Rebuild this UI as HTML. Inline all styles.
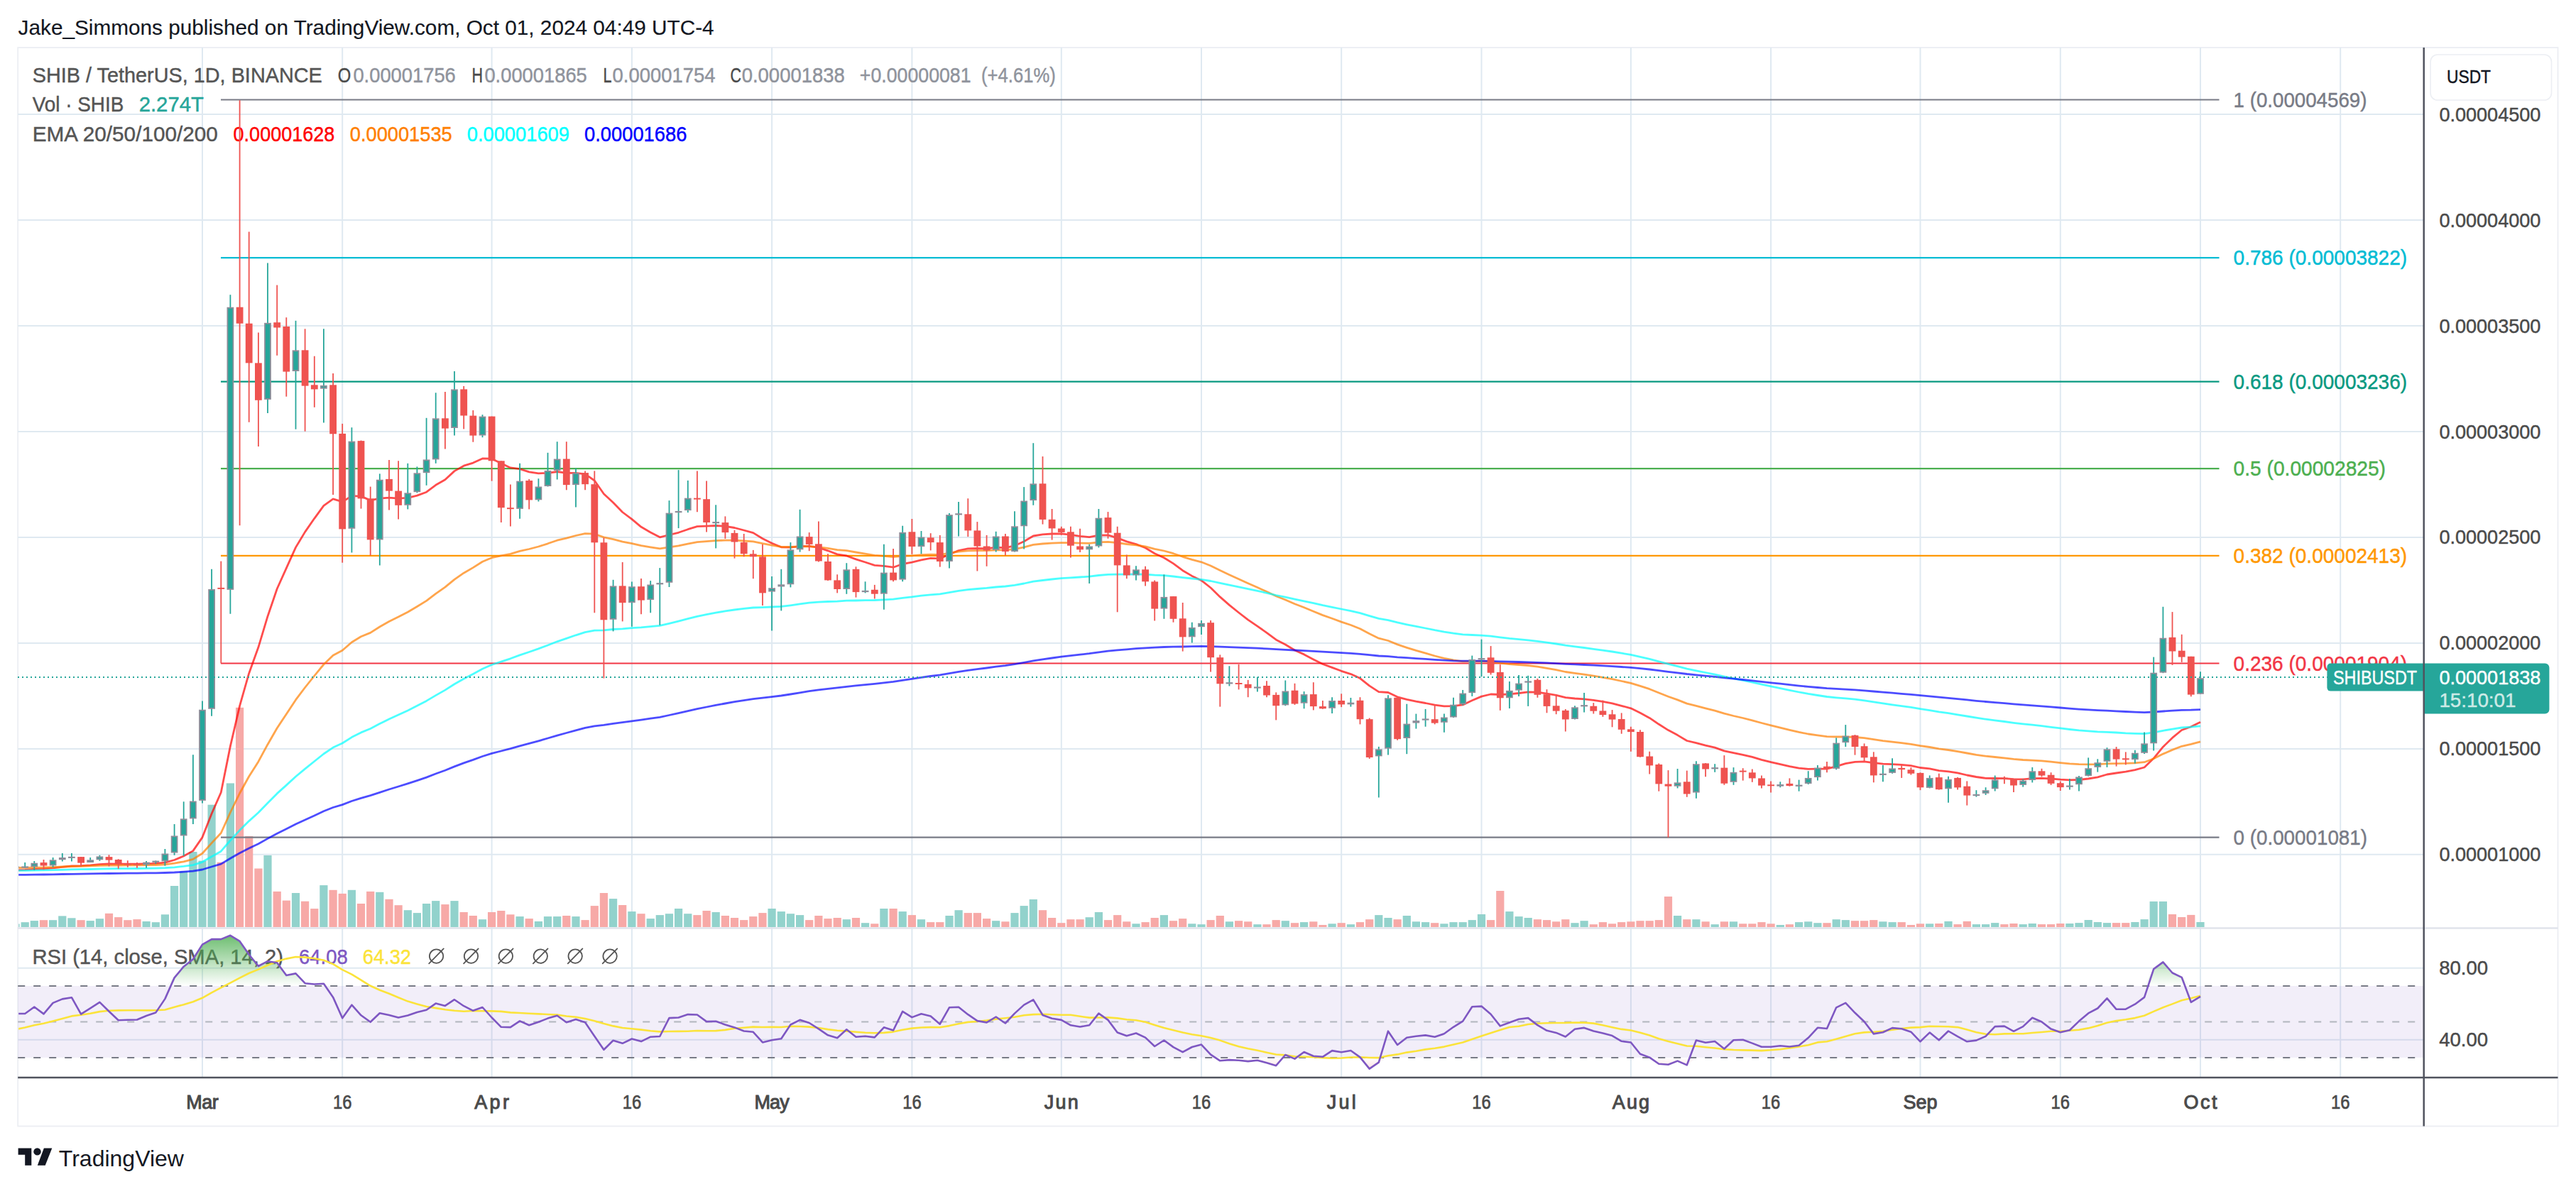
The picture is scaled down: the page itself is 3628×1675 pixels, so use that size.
<!DOCTYPE html>
<html><head><meta charset="utf-8"><style>
html,body{margin:0;padding:0;background:#fff;width:3628px;height:1675px;overflow:hidden}
svg{display:block}
text{font-family:"Liberation Sans", sans-serif;}
</style></head><body>
<svg width="3628" height="1675" viewBox="0 0 3628 1675">
<defs><clipPath id="cm"><rect x="26.2" y="68.0" width="3387.5" height="1239.6"/></clipPath><clipPath id="cr"><rect x="26.2" y="1308.6" width="3387.5" height="209.30000000000018"/></clipPath><linearGradient id="gob" x1="0" y1="0" x2="0" y2="1"><stop offset="0" stop-color="#4caf50" stop-opacity="0.9"/><stop offset="1" stop-color="#4caf50" stop-opacity="0"/></linearGradient><linearGradient id="gos" x1="0" y1="0" x2="0" y2="1"><stop offset="0" stop-color="#f23645" stop-opacity="0"/><stop offset="1" stop-color="#f23645" stop-opacity="0.5"/></linearGradient></defs>
<text x="25.6" y="49.0" font-size="29.5" fill="#131722" font-weight="normal" text-anchor="start" textLength="980.0" lengthAdjust="spacingAndGlyphs" stroke="#131722" stroke-width="0.15" >Jake_Simmons published on TradingView.com, Oct 01, 2024 04:49 UTC-4</text>
<rect x="25.2" y="67.0" width="3577.3" height="1519.5" fill="none" stroke="#eceef3" stroke-width="1.8"/>
<line x1="285.0" y1="67.0" x2="285.0" y2="1517.9" stroke="#dfe9f1" stroke-width="2"/>
<line x1="482.2" y1="67.0" x2="482.2" y2="1517.9" stroke="#dfe9f1" stroke-width="2"/>
<line x1="692.6" y1="67.0" x2="692.6" y2="1517.9" stroke="#dfe9f1" stroke-width="2"/>
<line x1="889.9" y1="67.0" x2="889.9" y2="1517.9" stroke="#dfe9f1" stroke-width="2"/>
<line x1="1087.1" y1="67.0" x2="1087.1" y2="1517.9" stroke="#dfe9f1" stroke-width="2"/>
<line x1="1284.4" y1="67.0" x2="1284.4" y2="1517.9" stroke="#dfe9f1" stroke-width="2"/>
<line x1="1494.8" y1="67.0" x2="1494.8" y2="1517.9" stroke="#dfe9f1" stroke-width="2"/>
<line x1="1692.0" y1="67.0" x2="1692.0" y2="1517.9" stroke="#dfe9f1" stroke-width="2"/>
<line x1="1889.2" y1="67.0" x2="1889.2" y2="1517.9" stroke="#dfe9f1" stroke-width="2"/>
<line x1="2086.5" y1="67.0" x2="2086.5" y2="1517.9" stroke="#dfe9f1" stroke-width="2"/>
<line x1="2296.9" y1="67.0" x2="2296.9" y2="1517.9" stroke="#dfe9f1" stroke-width="2"/>
<line x1="2494.1" y1="67.0" x2="2494.1" y2="1517.9" stroke="#dfe9f1" stroke-width="2"/>
<line x1="2704.5" y1="67.0" x2="2704.5" y2="1517.9" stroke="#dfe9f1" stroke-width="2"/>
<line x1="2901.8" y1="67.0" x2="2901.8" y2="1517.9" stroke="#dfe9f1" stroke-width="2"/>
<line x1="3099.0" y1="67.0" x2="3099.0" y2="1517.9" stroke="#dfe9f1" stroke-width="2"/>
<line x1="3296.2" y1="67.0" x2="3296.2" y2="1517.9" stroke="#dfe9f1" stroke-width="2"/>
<line x1="25.2" y1="161.1" x2="3413.7" y2="161.1" stroke="#dfe9f1" stroke-width="2"/>
<line x1="25.2" y1="310.0" x2="3413.7" y2="310.0" stroke="#dfe9f1" stroke-width="2"/>
<line x1="25.2" y1="459.0" x2="3413.7" y2="459.0" stroke="#dfe9f1" stroke-width="2"/>
<line x1="25.2" y1="608.0" x2="3413.7" y2="608.0" stroke="#dfe9f1" stroke-width="2"/>
<line x1="25.2" y1="756.9" x2="3413.7" y2="756.9" stroke="#dfe9f1" stroke-width="2"/>
<line x1="25.2" y1="905.9" x2="3413.7" y2="905.9" stroke="#dfe9f1" stroke-width="2"/>
<line x1="25.2" y1="1054.9" x2="3413.7" y2="1054.9" stroke="#dfe9f1" stroke-width="2"/>
<line x1="25.2" y1="1203.8" x2="3413.7" y2="1203.8" stroke="#dfe9f1" stroke-width="2"/>
<line x1="25.2" y1="1363.8" x2="3413.7" y2="1363.8" stroke="#dfe9f1" stroke-width="2"/>
<line x1="25.2" y1="1464.7" x2="3413.7" y2="1464.7" stroke="#dfe9f1" stroke-width="2"/>
<line x1="25.2" y1="1307.6" x2="3602.5" y2="1307.6" stroke="#e0e3eb" stroke-width="2.5"/>
<text x="45.8" y="115.9" font-size="30" fill="#555555" font-weight="normal" text-anchor="start" textLength="408.0" lengthAdjust="spacingAndGlyphs" stroke="#555555" stroke-width="0.45" >SHIB / TetherUS, 1D, BINANCE</text>
<text x="475.8" y="115.9" font-size="30" fill="#4a4a4a" font-weight="normal" text-anchor="start" textLength="18.5" lengthAdjust="spacingAndGlyphs" stroke="#4a4a4a" stroke-width="0.45" >O</text>
<text x="497.4" y="115.9" font-size="30" fill="#8f939c" font-weight="normal" text-anchor="start" textLength="144.4" lengthAdjust="spacingAndGlyphs" stroke="#8f939c" stroke-width="0.45" >0.00001756</text>
<text x="664.5" y="115.9" font-size="30" fill="#4a4a4a" font-weight="normal" text-anchor="start" textLength="15.5" lengthAdjust="spacingAndGlyphs" stroke="#4a4a4a" stroke-width="0.45" >H</text>
<text x="682.4" y="115.9" font-size="30" fill="#8f939c" font-weight="normal" text-anchor="start" textLength="144.4" lengthAdjust="spacingAndGlyphs" stroke="#8f939c" stroke-width="0.45" >0.00001865</text>
<text x="849.5" y="115.9" font-size="30" fill="#4a4a4a" font-weight="normal" text-anchor="start" textLength="12.0" lengthAdjust="spacingAndGlyphs" stroke="#4a4a4a" stroke-width="0.45" >L</text>
<text x="862.6" y="115.9" font-size="30" fill="#8f939c" font-weight="normal" text-anchor="start" textLength="144.9" lengthAdjust="spacingAndGlyphs" stroke="#8f939c" stroke-width="0.45" >0.00001754</text>
<text x="1028.4" y="115.9" font-size="30" fill="#4a4a4a" font-weight="normal" text-anchor="start" textLength="15.5" lengthAdjust="spacingAndGlyphs" stroke="#4a4a4a" stroke-width="0.45" >C</text>
<text x="1044.7" y="115.9" font-size="30" fill="#8f939c" font-weight="normal" text-anchor="start" textLength="145.1" lengthAdjust="spacingAndGlyphs" stroke="#8f939c" stroke-width="0.45" >0.00001838</text>
<text x="1210.8" y="115.9" font-size="30" fill="#8f939c" font-weight="normal" text-anchor="start" textLength="156.8" lengthAdjust="spacingAndGlyphs" stroke="#8f939c" stroke-width="0.45" >+0.00000081</text>
<text x="1382.0" y="115.9" font-size="30" fill="#8f939c" font-weight="normal" text-anchor="start" textLength="104.8" lengthAdjust="spacingAndGlyphs" stroke="#8f939c" stroke-width="0.45" >(+4.61%)</text>
<text x="45.8" y="157.0" font-size="30" fill="#555555" font-weight="normal" text-anchor="start" textLength="128.5" lengthAdjust="spacingAndGlyphs" stroke="#555555" stroke-width="0.45" >Vol · SHIB</text>
<text x="195.7" y="157.0" font-size="30" fill="#26a69a" font-weight="normal" text-anchor="start" textLength="91.2" lengthAdjust="spacingAndGlyphs" stroke="#26a69a" stroke-width="0.45" >2.274T</text>
<text x="45.8" y="199.2" font-size="30" fill="#555555" font-weight="normal" text-anchor="start" textLength="261.0" lengthAdjust="spacingAndGlyphs" stroke="#555555" stroke-width="0.45" >EMA 20/50/100/200</text>
<text x="328.6" y="199.2" font-size="30" fill="#ff0000" font-weight="normal" text-anchor="start" textLength="142.7" lengthAdjust="spacingAndGlyphs" stroke="#ff0000" stroke-width="0.45" >0.00001628</text>
<text x="492.8" y="199.2" font-size="30" fill="#ff7f00" font-weight="normal" text-anchor="start" textLength="143.9" lengthAdjust="spacingAndGlyphs" stroke="#ff7f00" stroke-width="0.45" >0.00001535</text>
<text x="657.7" y="199.2" font-size="30" fill="#00ffff" font-weight="normal" text-anchor="start" textLength="144.3" lengthAdjust="spacingAndGlyphs" stroke="#00ffff" stroke-width="0.45" >0.00001609</text>
<text x="823.0" y="199.2" font-size="30" fill="#0000ff" font-weight="normal" text-anchor="start" textLength="144.4" lengthAdjust="spacingAndGlyphs" stroke="#0000ff" stroke-width="0.45" >0.00001686</text>
<text x="45.4" y="1357.5" font-size="30" fill="#555555" font-weight="normal" text-anchor="start" textLength="353.6" lengthAdjust="spacingAndGlyphs" stroke="#555555" stroke-width="0.45" >RSI (14, close, SMA, 14, 2)</text>
<text x="421.0" y="1357.5" font-size="30" fill="#7e57c2" font-weight="normal" text-anchor="start" textLength="68.9" lengthAdjust="spacingAndGlyphs" stroke="#7e57c2" stroke-width="0.45" >64.08</text>
<text x="510.8" y="1357.5" font-size="30" fill="#fbe33a" font-weight="normal" text-anchor="start" textLength="68.2" lengthAdjust="spacingAndGlyphs" stroke="#fbe33a" stroke-width="0.45" >64.32</text>
<circle cx="614.6" cy="1347.1" r="9.7" fill="none" stroke="#555555" stroke-width="1.8"/>
<line x1="604.2" y1="1357.4" x2="624.8" y2="1336.4" stroke="#555555" stroke-width="1.8" stroke-linecap="round"/>
<circle cx="663.5" cy="1347.1" r="9.7" fill="none" stroke="#555555" stroke-width="1.8"/>
<line x1="653.1" y1="1357.4" x2="673.7" y2="1336.4" stroke="#555555" stroke-width="1.8" stroke-linecap="round"/>
<circle cx="712.4" cy="1347.1" r="9.7" fill="none" stroke="#555555" stroke-width="1.8"/>
<line x1="702.0" y1="1357.4" x2="722.6" y2="1336.4" stroke="#555555" stroke-width="1.8" stroke-linecap="round"/>
<circle cx="761.3" cy="1347.1" r="9.7" fill="none" stroke="#555555" stroke-width="1.8"/>
<line x1="750.9" y1="1357.4" x2="771.5" y2="1336.4" stroke="#555555" stroke-width="1.8" stroke-linecap="round"/>
<circle cx="810.2" cy="1347.1" r="9.7" fill="none" stroke="#555555" stroke-width="1.8"/>
<line x1="799.8" y1="1357.4" x2="820.4" y2="1336.4" stroke="#555555" stroke-width="1.8" stroke-linecap="round"/>
<circle cx="859.1" cy="1347.1" r="9.7" fill="none" stroke="#555555" stroke-width="1.8"/>
<line x1="848.7" y1="1357.4" x2="869.3" y2="1336.4" stroke="#555555" stroke-width="1.8" stroke-linecap="round"/>
<g clip-path="url(#cm)">
<rect x="16.4" y="1301.5" width="11.2" height="4.5" fill="#92d2cc"/>
<rect x="29.6" y="1299.2" width="11.2" height="6.8" fill="#92d2cc"/>
<rect x="42.7" y="1297.1" width="11.2" height="8.9" fill="#92d2cc"/>
<rect x="55.9" y="1296.2" width="11.2" height="9.8" fill="#f7a9a7"/>
<rect x="69.0" y="1296.2" width="11.2" height="9.8" fill="#92d2cc"/>
<rect x="82.2" y="1290.4" width="11.2" height="15.6" fill="#92d2cc"/>
<rect x="95.3" y="1293.3" width="11.2" height="12.7" fill="#92d2cc"/>
<rect x="108.5" y="1296.2" width="11.2" height="9.8" fill="#f7a9a7"/>
<rect x="121.6" y="1297.1" width="11.2" height="8.9" fill="#92d2cc"/>
<rect x="134.8" y="1294.2" width="11.2" height="11.8" fill="#92d2cc"/>
<rect x="147.9" y="1286.8" width="11.2" height="19.2" fill="#f7a9a7"/>
<rect x="161.1" y="1292.1" width="11.2" height="13.9" fill="#f7a9a7"/>
<rect x="174.2" y="1296.2" width="11.2" height="9.8" fill="#f7a9a7"/>
<rect x="187.4" y="1295.1" width="11.2" height="10.9" fill="#f7a9a7"/>
<rect x="200.5" y="1298.0" width="11.2" height="8.0" fill="#92d2cc"/>
<rect x="213.7" y="1299.2" width="11.2" height="6.8" fill="#92d2cc"/>
<rect x="226.8" y="1288.3" width="11.2" height="17.7" fill="#92d2cc"/>
<rect x="240.0" y="1248.0" width="11.2" height="58.0" fill="#92d2cc"/>
<rect x="253.1" y="1227.3" width="11.2" height="78.7" fill="#92d2cc"/>
<rect x="266.3" y="1200.0" width="11.2" height="106.0" fill="#92d2cc"/>
<rect x="279.4" y="1212.6" width="11.2" height="93.4" fill="#92d2cc"/>
<rect x="292.5" y="1133.7" width="11.2" height="172.3" fill="#92d2cc"/>
<rect x="305.7" y="1214.7" width="11.2" height="91.3" fill="#f7a9a7"/>
<rect x="318.8" y="1103.4" width="11.2" height="202.6" fill="#92d2cc"/>
<rect x="332.0" y="996.8" width="11.2" height="309.2" fill="#f7a9a7"/>
<rect x="345.1" y="1177.9" width="11.2" height="128.1" fill="#f7a9a7"/>
<rect x="358.3" y="1223.5" width="11.2" height="82.5" fill="#f7a9a7"/>
<rect x="371.4" y="1205.0" width="11.2" height="101.0" fill="#92d2cc"/>
<rect x="384.6" y="1255.9" width="11.2" height="50.1" fill="#f7a9a7"/>
<rect x="397.7" y="1268.6" width="11.2" height="37.4" fill="#f7a9a7"/>
<rect x="410.9" y="1258.0" width="11.2" height="48.0" fill="#92d2cc"/>
<rect x="424.0" y="1269.7" width="11.2" height="36.3" fill="#f7a9a7"/>
<rect x="437.2" y="1280.1" width="11.2" height="25.9" fill="#f7a9a7"/>
<rect x="450.3" y="1247.1" width="11.2" height="58.9" fill="#92d2cc"/>
<rect x="463.5" y="1253.8" width="11.2" height="52.2" fill="#f7a9a7"/>
<rect x="476.6" y="1258.9" width="11.2" height="47.1" fill="#f7a9a7"/>
<rect x="489.8" y="1253.8" width="11.2" height="52.2" fill="#92d2cc"/>
<rect x="502.9" y="1273.0" width="11.2" height="33.0" fill="#f7a9a7"/>
<rect x="516.1" y="1255.9" width="11.2" height="50.1" fill="#f7a9a7"/>
<rect x="529.2" y="1256.8" width="11.2" height="49.2" fill="#92d2cc"/>
<rect x="542.4" y="1266.8" width="11.2" height="39.2" fill="#f7a9a7"/>
<rect x="555.5" y="1275.2" width="11.2" height="30.8" fill="#f7a9a7"/>
<rect x="568.7" y="1282.2" width="11.2" height="23.8" fill="#92d2cc"/>
<rect x="581.8" y="1286.1" width="11.2" height="19.9" fill="#92d2cc"/>
<rect x="595.0" y="1273.0" width="11.2" height="33.0" fill="#92d2cc"/>
<rect x="608.1" y="1269.1" width="11.2" height="36.9" fill="#92d2cc"/>
<rect x="621.3" y="1274.1" width="11.2" height="31.9" fill="#f7a9a7"/>
<rect x="634.4" y="1269.1" width="11.2" height="36.9" fill="#92d2cc"/>
<rect x="647.6" y="1285.0" width="11.2" height="21.0" fill="#f7a9a7"/>
<rect x="660.7" y="1290.0" width="11.2" height="16.0" fill="#f7a9a7"/>
<rect x="673.9" y="1295.2" width="11.2" height="10.8" fill="#92d2cc"/>
<rect x="687.0" y="1285.0" width="11.2" height="21.0" fill="#f7a9a7"/>
<rect x="700.2" y="1283.0" width="11.2" height="23.0" fill="#f7a9a7"/>
<rect x="713.3" y="1288.3" width="11.2" height="17.7" fill="#f7a9a7"/>
<rect x="726.5" y="1291.1" width="11.2" height="14.9" fill="#92d2cc"/>
<rect x="739.6" y="1294.1" width="11.2" height="11.9" fill="#f7a9a7"/>
<rect x="752.8" y="1298.0" width="11.2" height="8.0" fill="#92d2cc"/>
<rect x="765.9" y="1291.1" width="11.2" height="14.9" fill="#92d2cc"/>
<rect x="779.1" y="1291.1" width="11.2" height="14.9" fill="#92d2cc"/>
<rect x="792.2" y="1290.0" width="11.2" height="16.0" fill="#f7a9a7"/>
<rect x="805.4" y="1291.1" width="11.2" height="14.9" fill="#92d2cc"/>
<rect x="818.5" y="1296.1" width="11.2" height="9.9" fill="#f7a9a7"/>
<rect x="831.7" y="1276.1" width="11.2" height="29.9" fill="#f7a9a7"/>
<rect x="844.8" y="1258.0" width="11.2" height="48.0" fill="#f7a9a7"/>
<rect x="858.0" y="1266.1" width="11.2" height="39.9" fill="#92d2cc"/>
<rect x="871.1" y="1275.0" width="11.2" height="31.0" fill="#f7a9a7"/>
<rect x="884.3" y="1284.1" width="11.2" height="21.9" fill="#92d2cc"/>
<rect x="897.4" y="1287.2" width="11.2" height="18.8" fill="#f7a9a7"/>
<rect x="910.6" y="1294.1" width="11.2" height="11.9" fill="#92d2cc"/>
<rect x="923.7" y="1289.1" width="11.2" height="16.9" fill="#92d2cc"/>
<rect x="936.9" y="1287.2" width="11.2" height="18.8" fill="#92d2cc"/>
<rect x="950.0" y="1280.0" width="11.2" height="26.0" fill="#92d2cc"/>
<rect x="963.2" y="1287.2" width="11.2" height="18.8" fill="#92d2cc"/>
<rect x="976.3" y="1289.1" width="11.2" height="16.9" fill="#f7a9a7"/>
<rect x="989.5" y="1283.0" width="11.2" height="23.0" fill="#f7a9a7"/>
<rect x="1002.6" y="1285.0" width="11.2" height="21.0" fill="#92d2cc"/>
<rect x="1015.8" y="1290.0" width="11.2" height="16.0" fill="#f7a9a7"/>
<rect x="1028.9" y="1293.0" width="11.2" height="13.0" fill="#f7a9a7"/>
<rect x="1042.1" y="1296.1" width="11.2" height="9.9" fill="#f7a9a7"/>
<rect x="1055.2" y="1291.1" width="11.2" height="14.9" fill="#f7a9a7"/>
<rect x="1068.4" y="1286.1" width="11.2" height="19.9" fill="#f7a9a7"/>
<rect x="1081.5" y="1280.0" width="11.2" height="26.0" fill="#92d2cc"/>
<rect x="1094.7" y="1284.1" width="11.2" height="21.9" fill="#92d2cc"/>
<rect x="1107.8" y="1287.2" width="11.2" height="18.8" fill="#92d2cc"/>
<rect x="1121.0" y="1289.1" width="11.2" height="16.9" fill="#92d2cc"/>
<rect x="1134.1" y="1296.1" width="11.2" height="9.9" fill="#f7a9a7"/>
<rect x="1147.3" y="1290.0" width="11.2" height="16.0" fill="#f7a9a7"/>
<rect x="1160.4" y="1294.1" width="11.2" height="11.9" fill="#f7a9a7"/>
<rect x="1173.6" y="1293.0" width="11.2" height="13.0" fill="#f7a9a7"/>
<rect x="1186.7" y="1295.2" width="11.2" height="10.8" fill="#92d2cc"/>
<rect x="1199.9" y="1293.0" width="11.2" height="13.0" fill="#f7a9a7"/>
<rect x="1213.0" y="1300.2" width="11.2" height="5.8" fill="#92d2cc"/>
<rect x="1226.2" y="1301.3" width="11.2" height="4.7" fill="#f7a9a7"/>
<rect x="1239.3" y="1280.0" width="11.2" height="26.0" fill="#92d2cc"/>
<rect x="1252.5" y="1280.0" width="11.2" height="26.0" fill="#f7a9a7"/>
<rect x="1265.6" y="1284.1" width="11.2" height="21.9" fill="#92d2cc"/>
<rect x="1278.8" y="1289.1" width="11.2" height="16.9" fill="#f7a9a7"/>
<rect x="1291.9" y="1295.2" width="11.2" height="10.8" fill="#92d2cc"/>
<rect x="1305.1" y="1299.1" width="11.2" height="6.9" fill="#f7a9a7"/>
<rect x="1318.2" y="1299.1" width="11.2" height="6.9" fill="#f7a9a7"/>
<rect x="1331.4" y="1290.0" width="11.2" height="16.0" fill="#92d2cc"/>
<rect x="1344.5" y="1282.2" width="11.2" height="23.8" fill="#92d2cc"/>
<rect x="1357.7" y="1286.1" width="11.2" height="19.9" fill="#f7a9a7"/>
<rect x="1370.8" y="1286.1" width="11.2" height="19.9" fill="#f7a9a7"/>
<rect x="1384.0" y="1294.1" width="11.2" height="11.9" fill="#f7a9a7"/>
<rect x="1397.1" y="1297.2" width="11.2" height="8.8" fill="#92d2cc"/>
<rect x="1410.3" y="1298.3" width="11.2" height="7.7" fill="#f7a9a7"/>
<rect x="1423.4" y="1286.1" width="11.2" height="19.9" fill="#92d2cc"/>
<rect x="1436.6" y="1276.1" width="11.2" height="29.9" fill="#92d2cc"/>
<rect x="1449.7" y="1267.0" width="11.2" height="39.0" fill="#92d2cc"/>
<rect x="1462.9" y="1282.2" width="11.2" height="23.8" fill="#f7a9a7"/>
<rect x="1476.0" y="1293.0" width="11.2" height="13.0" fill="#f7a9a7"/>
<rect x="1489.2" y="1300.2" width="11.2" height="5.8" fill="#f7a9a7"/>
<rect x="1502.3" y="1295.2" width="11.2" height="10.8" fill="#f7a9a7"/>
<rect x="1515.5" y="1295.2" width="11.2" height="10.8" fill="#f7a9a7"/>
<rect x="1528.6" y="1292.2" width="11.2" height="13.8" fill="#92d2cc"/>
<rect x="1541.8" y="1285.0" width="11.2" height="21.0" fill="#92d2cc"/>
<rect x="1554.9" y="1296.1" width="11.2" height="9.9" fill="#f7a9a7"/>
<rect x="1568.1" y="1289.1" width="11.2" height="16.9" fill="#f7a9a7"/>
<rect x="1581.2" y="1298.3" width="11.2" height="7.7" fill="#f7a9a7"/>
<rect x="1594.4" y="1301.3" width="11.2" height="4.7" fill="#92d2cc"/>
<rect x="1607.5" y="1299.1" width="11.2" height="6.9" fill="#f7a9a7"/>
<rect x="1620.6" y="1293.0" width="11.2" height="13.0" fill="#f7a9a7"/>
<rect x="1633.8" y="1289.1" width="11.2" height="16.9" fill="#92d2cc"/>
<rect x="1646.9" y="1297.2" width="11.2" height="8.8" fill="#f7a9a7"/>
<rect x="1660.1" y="1294.1" width="11.2" height="11.9" fill="#f7a9a7"/>
<rect x="1673.2" y="1301.3" width="11.2" height="4.7" fill="#92d2cc"/>
<rect x="1686.4" y="1302.2" width="11.2" height="3.8" fill="#92d2cc"/>
<rect x="1699.5" y="1296.1" width="11.2" height="9.9" fill="#f7a9a7"/>
<rect x="1712.7" y="1290.0" width="11.2" height="16.0" fill="#f7a9a7"/>
<rect x="1725.8" y="1298.3" width="11.2" height="7.7" fill="#92d2cc"/>
<rect x="1739.0" y="1297.2" width="11.2" height="8.8" fill="#f7a9a7"/>
<rect x="1752.1" y="1298.3" width="11.2" height="7.7" fill="#f7a9a7"/>
<rect x="1765.3" y="1302.2" width="11.2" height="3.8" fill="#92d2cc"/>
<rect x="1778.4" y="1302.2" width="11.2" height="3.8" fill="#f7a9a7"/>
<rect x="1791.6" y="1296.1" width="11.2" height="9.9" fill="#f7a9a7"/>
<rect x="1804.7" y="1297.2" width="11.2" height="8.8" fill="#92d2cc"/>
<rect x="1817.9" y="1300.2" width="11.2" height="5.8" fill="#f7a9a7"/>
<rect x="1831.0" y="1299.1" width="11.2" height="6.9" fill="#92d2cc"/>
<rect x="1844.2" y="1298.3" width="11.2" height="7.7" fill="#f7a9a7"/>
<rect x="1857.3" y="1303.0" width="11.2" height="3.0" fill="#f7a9a7"/>
<rect x="1870.5" y="1301.3" width="11.2" height="4.7" fill="#92d2cc"/>
<rect x="1883.6" y="1300.2" width="11.2" height="5.8" fill="#f7a9a7"/>
<rect x="1896.8" y="1302.2" width="11.2" height="3.8" fill="#92d2cc"/>
<rect x="1909.9" y="1299.1" width="11.2" height="6.9" fill="#f7a9a7"/>
<rect x="1923.1" y="1295.2" width="11.2" height="10.8" fill="#f7a9a7"/>
<rect x="1936.2" y="1289.1" width="11.2" height="16.9" fill="#92d2cc"/>
<rect x="1949.4" y="1293.0" width="11.2" height="13.0" fill="#92d2cc"/>
<rect x="1962.5" y="1295.2" width="11.2" height="10.8" fill="#f7a9a7"/>
<rect x="1975.7" y="1290.0" width="11.2" height="16.0" fill="#92d2cc"/>
<rect x="1988.8" y="1298.3" width="11.2" height="7.7" fill="#92d2cc"/>
<rect x="2002.0" y="1299.1" width="11.2" height="6.9" fill="#92d2cc"/>
<rect x="2015.1" y="1300.2" width="11.2" height="5.8" fill="#f7a9a7"/>
<rect x="2028.3" y="1301.3" width="11.2" height="4.7" fill="#92d2cc"/>
<rect x="2041.4" y="1299.1" width="11.2" height="6.9" fill="#92d2cc"/>
<rect x="2054.6" y="1299.1" width="11.2" height="6.9" fill="#92d2cc"/>
<rect x="2067.7" y="1296.1" width="11.2" height="9.9" fill="#92d2cc"/>
<rect x="2080.9" y="1288.0" width="11.2" height="18.0" fill="#92d2cc"/>
<rect x="2094.0" y="1296.1" width="11.2" height="9.9" fill="#f7a9a7"/>
<rect x="2107.2" y="1255.0" width="11.2" height="51.0" fill="#f7a9a7"/>
<rect x="2120.3" y="1284.1" width="11.2" height="21.9" fill="#92d2cc"/>
<rect x="2133.5" y="1291.1" width="11.2" height="14.9" fill="#92d2cc"/>
<rect x="2146.6" y="1293.0" width="11.2" height="13.0" fill="#92d2cc"/>
<rect x="2159.8" y="1295.2" width="11.2" height="10.8" fill="#f7a9a7"/>
<rect x="2172.9" y="1296.1" width="11.2" height="9.9" fill="#f7a9a7"/>
<rect x="2186.1" y="1298.3" width="11.2" height="7.7" fill="#f7a9a7"/>
<rect x="2199.2" y="1295.2" width="11.2" height="10.8" fill="#f7a9a7"/>
<rect x="2212.4" y="1300.2" width="11.2" height="5.8" fill="#92d2cc"/>
<rect x="2225.5" y="1297.2" width="11.2" height="8.8" fill="#92d2cc"/>
<rect x="2238.7" y="1302.2" width="11.2" height="3.8" fill="#f7a9a7"/>
<rect x="2251.8" y="1299.1" width="11.2" height="6.9" fill="#f7a9a7"/>
<rect x="2265.0" y="1301.3" width="11.2" height="4.7" fill="#f7a9a7"/>
<rect x="2278.1" y="1299.1" width="11.2" height="6.9" fill="#f7a9a7"/>
<rect x="2291.3" y="1298.3" width="11.2" height="7.7" fill="#f7a9a7"/>
<rect x="2304.4" y="1297.2" width="11.2" height="8.8" fill="#f7a9a7"/>
<rect x="2317.6" y="1297.2" width="11.2" height="8.8" fill="#f7a9a7"/>
<rect x="2330.7" y="1296.1" width="11.2" height="9.9" fill="#f7a9a7"/>
<rect x="2343.9" y="1263.0" width="11.2" height="43.0" fill="#f7a9a7"/>
<rect x="2357.0" y="1290.0" width="11.2" height="16.0" fill="#92d2cc"/>
<rect x="2370.2" y="1295.2" width="11.2" height="10.8" fill="#f7a9a7"/>
<rect x="2383.3" y="1295.2" width="11.2" height="10.8" fill="#92d2cc"/>
<rect x="2396.5" y="1298.3" width="11.2" height="7.7" fill="#f7a9a7"/>
<rect x="2409.6" y="1302.2" width="11.2" height="3.8" fill="#92d2cc"/>
<rect x="2422.8" y="1298.3" width="11.2" height="7.7" fill="#f7a9a7"/>
<rect x="2435.9" y="1298.3" width="11.2" height="7.7" fill="#92d2cc"/>
<rect x="2449.1" y="1301.3" width="11.2" height="4.7" fill="#f7a9a7"/>
<rect x="2462.2" y="1301.3" width="11.2" height="4.7" fill="#f7a9a7"/>
<rect x="2475.4" y="1299.1" width="11.2" height="6.9" fill="#f7a9a7"/>
<rect x="2488.5" y="1301.3" width="11.2" height="4.7" fill="#f7a9a7"/>
<rect x="2501.7" y="1303.0" width="11.2" height="3.0" fill="#92d2cc"/>
<rect x="2514.8" y="1302.2" width="11.2" height="3.8" fill="#f7a9a7"/>
<rect x="2528.0" y="1299.1" width="11.2" height="6.9" fill="#92d2cc"/>
<rect x="2541.1" y="1298.3" width="11.2" height="7.7" fill="#92d2cc"/>
<rect x="2554.3" y="1300.2" width="11.2" height="5.8" fill="#92d2cc"/>
<rect x="2567.4" y="1300.2" width="11.2" height="5.8" fill="#f7a9a7"/>
<rect x="2580.6" y="1295.2" width="11.2" height="10.8" fill="#92d2cc"/>
<rect x="2593.7" y="1296.1" width="11.2" height="9.9" fill="#92d2cc"/>
<rect x="2606.9" y="1297.2" width="11.2" height="8.8" fill="#f7a9a7"/>
<rect x="2620.0" y="1297.2" width="11.2" height="8.8" fill="#f7a9a7"/>
<rect x="2633.2" y="1296.1" width="11.2" height="9.9" fill="#f7a9a7"/>
<rect x="2646.3" y="1298.3" width="11.2" height="7.7" fill="#92d2cc"/>
<rect x="2659.5" y="1299.1" width="11.2" height="6.9" fill="#92d2cc"/>
<rect x="2672.6" y="1299.1" width="11.2" height="6.9" fill="#f7a9a7"/>
<rect x="2685.8" y="1303.0" width="11.2" height="3.0" fill="#f7a9a7"/>
<rect x="2698.9" y="1301.3" width="11.2" height="4.7" fill="#f7a9a7"/>
<rect x="2712.1" y="1301.3" width="11.2" height="4.7" fill="#92d2cc"/>
<rect x="2725.2" y="1301.0" width="11.2" height="5.0" fill="#f7a9a7"/>
<rect x="2738.4" y="1297.9" width="11.2" height="8.1" fill="#92d2cc"/>
<rect x="2751.5" y="1302.1" width="11.2" height="3.9" fill="#f7a9a7"/>
<rect x="2764.7" y="1297.9" width="11.2" height="8.1" fill="#f7a9a7"/>
<rect x="2777.8" y="1302.1" width="11.2" height="3.9" fill="#92d2cc"/>
<rect x="2791.0" y="1302.1" width="11.2" height="3.9" fill="#92d2cc"/>
<rect x="2804.1" y="1300.1" width="11.2" height="5.9" fill="#92d2cc"/>
<rect x="2817.3" y="1302.1" width="11.2" height="3.9" fill="#f7a9a7"/>
<rect x="2830.4" y="1301.0" width="11.2" height="5.0" fill="#f7a9a7"/>
<rect x="2843.6" y="1302.1" width="11.2" height="3.9" fill="#92d2cc"/>
<rect x="2856.7" y="1301.0" width="11.2" height="5.0" fill="#92d2cc"/>
<rect x="2869.9" y="1302.1" width="11.2" height="3.9" fill="#f7a9a7"/>
<rect x="2883.0" y="1302.1" width="11.2" height="3.9" fill="#f7a9a7"/>
<rect x="2896.2" y="1301.0" width="11.2" height="5.0" fill="#f7a9a7"/>
<rect x="2909.3" y="1301.0" width="11.2" height="5.0" fill="#92d2cc"/>
<rect x="2922.4" y="1300.1" width="11.2" height="5.9" fill="#92d2cc"/>
<rect x="2935.6" y="1296.0" width="11.2" height="10.0" fill="#92d2cc"/>
<rect x="2948.7" y="1299.0" width="11.2" height="7.0" fill="#92d2cc"/>
<rect x="2961.9" y="1300.1" width="11.2" height="5.9" fill="#92d2cc"/>
<rect x="2975.0" y="1300.1" width="11.2" height="5.9" fill="#f7a9a7"/>
<rect x="2988.2" y="1300.1" width="11.2" height="5.9" fill="#f7a9a7"/>
<rect x="3001.3" y="1299.0" width="11.2" height="7.0" fill="#92d2cc"/>
<rect x="3014.5" y="1295.1" width="11.2" height="10.9" fill="#92d2cc"/>
<rect x="3027.6" y="1269.9" width="11.2" height="36.1" fill="#92d2cc"/>
<rect x="3040.8" y="1269.9" width="11.2" height="36.1" fill="#92d2cc"/>
<rect x="3053.9" y="1288.0" width="11.2" height="18.0" fill="#f7a9a7"/>
<rect x="3067.1" y="1292.0" width="11.2" height="14.0" fill="#f7a9a7"/>
<rect x="3080.2" y="1288.9" width="11.2" height="17.1" fill="#f7a9a7"/>
<rect x="3093.4" y="1299.0" width="11.2" height="7.0" fill="#92d2cc"/>
<line x1="311" y1="140.5" x2="3125.5" y2="140.5" stroke="#787b86" stroke-width="2.2"/>
<text x="3145.6" y="150.8" font-size="29.5" fill="#787b86" font-weight="normal" text-anchor="start" textLength="187.8" lengthAdjust="spacingAndGlyphs" stroke="#787b86" stroke-width="0.45" >1 (0.00004569)</text>
<line x1="311" y1="363.1" x2="3125.5" y2="363.1" stroke="#00bcd4" stroke-width="2.2"/>
<text x="3145.6" y="373.4" font-size="29.5" fill="#00bcd4" font-weight="normal" text-anchor="start" textLength="244.5" lengthAdjust="spacingAndGlyphs" stroke="#00bcd4" stroke-width="0.45" >0.786 (0.00003822)</text>
<line x1="311" y1="537.7" x2="3125.5" y2="537.7" stroke="#089981" stroke-width="2.2"/>
<text x="3145.6" y="548.0" font-size="29.5" fill="#089981" font-weight="normal" text-anchor="start" textLength="244.5" lengthAdjust="spacingAndGlyphs" stroke="#089981" stroke-width="0.45" >0.618 (0.00003236)</text>
<line x1="311" y1="660.1" x2="3125.5" y2="660.1" stroke="#4caf50" stroke-width="2.2"/>
<text x="3145.6" y="670.4" font-size="29.5" fill="#4caf50" font-weight="normal" text-anchor="start" textLength="214.4" lengthAdjust="spacingAndGlyphs" stroke="#4caf50" stroke-width="0.45" >0.5 (0.00002825)</text>
<line x1="311" y1="782.9" x2="3125.5" y2="782.9" stroke="#ff9800" stroke-width="2.2"/>
<text x="3145.6" y="793.2" font-size="29.5" fill="#ff9800" font-weight="normal" text-anchor="start" textLength="244.5" lengthAdjust="spacingAndGlyphs" stroke="#ff9800" stroke-width="0.45" >0.382 (0.00002413)</text>
<line x1="311" y1="934.5" x2="3125.5" y2="934.5" stroke="#f23645" stroke-width="2.2"/>
<text x="3145.6" y="944.8" font-size="29.5" fill="#f23645" font-weight="normal" text-anchor="start" textLength="244.5" lengthAdjust="spacingAndGlyphs" stroke="#f23645" stroke-width="0.45" >0.236 (0.00001904)</text>
<line x1="311" y1="1179.7" x2="3125.5" y2="1179.7" stroke="#787b86" stroke-width="2.2"/>
<text x="3145.6" y="1190.0" font-size="29.5" fill="#787b86" font-weight="normal" text-anchor="start" textLength="188.4" lengthAdjust="spacingAndGlyphs" stroke="#787b86" stroke-width="0.45" >0 (0.00001081)</text>
<polyline points="8.9,1226.5 22.0,1225.9 35.2,1225.4 48.3,1224.5 61.5,1224.0 74.6,1222.8 87.8,1221.4 100.9,1220.0 114.1,1219.6 127.2,1218.8 140.4,1217.6 153.5,1217.0 166.7,1217.1 179.8,1217.1 193.0,1217.1 206.1,1216.8 219.3,1216.4 232.4,1215.1 245.6,1211.5 258.7,1206.0 271.9,1198.6 285.0,1179.6 298.1,1146.3 311.3,1116.2 324.4,1051.1 337.6,994.4 350.7,948.4 363.9,911.8 377.0,868.2 390.2,829.5 403.3,800.4 416.5,771.1 429.6,749.4 442.8,730.3 455.9,712.4 469.1,702.8 482.2,706.9 495.4,698.7 508.5,699.1 521.7,704.9 534.8,702.1 548.0,701.1 561.1,702.2 574.3,701.4 587.4,698.1 600.6,693.2 613.7,683.3 626.9,675.7 640.0,663.6 653.2,656.2 666.3,652.1 679.5,645.9 692.6,646.2 705.8,652.8 718.9,658.9 732.1,660.7 745.2,664.8 758.4,666.8 771.5,666.4 784.7,664.5 797.8,666.3 811.0,666.3 824.1,667.8 837.3,677.0 850.4,695.7 863.6,708.0 876.7,721.5 889.9,731.4 903.0,742.3 916.2,750.0 929.3,756.8 942.5,753.5 955.6,750.3 968.8,745.7 981.9,741.7 995.1,741.1 1008.2,740.5 1021.4,741.4 1034.5,743.5 1047.7,747.0 1060.8,750.6 1074.0,758.7 1087.1,765.3 1100.3,770.8 1113.4,771.2 1126.6,769.7 1139.7,769.4 1152.9,771.4 1166.0,775.8 1179.2,780.9 1192.3,783.0 1205.5,787.9 1218.6,792.0 1231.8,796.3 1244.9,797.3 1258.1,799.2 1271.2,794.5 1284.4,792.2 1297.5,788.8 1310.7,786.4 1323.8,786.9 1337.0,781.0 1350.1,775.5 1363.3,772.8 1376.4,772.5 1389.6,772.8 1402.7,771.1 1415.9,771.7 1429.0,768.8 1442.2,762.8 1455.3,755.0 1468.5,752.8 1481.6,752.0 1494.8,751.8 1507.9,753.4 1521.1,755.4 1534.2,756.7 1547.4,754.2 1560.5,753.8 1573.7,757.9 1586.8,762.9 1600.0,766.6 1613.1,771.7 1626.2,779.8 1639.4,785.7 1652.5,793.9 1665.7,803.7 1678.8,811.4 1692.0,817.7 1705.1,828.0 1718.3,840.9 1731.4,852.4 1744.6,863.0 1757.7,873.1 1770.9,882.1 1784.0,891.3 1797.2,901.2 1810.3,908.0 1823.5,916.0 1836.6,921.9 1849.8,928.9 1862.9,935.5 1876.1,940.4 1889.2,945.3 1902.4,949.6 1915.5,955.6 1928.7,966.2 1941.8,974.7 1955.0,975.5 1968.1,981.8 1981.3,985.4 1994.4,988.2 2007.6,990.5 2020.7,993.2 2033.9,994.8 2047.0,994.6 2060.2,992.9 2073.3,986.8 2086.5,981.1 2099.6,978.0 2112.8,978.5 2125.9,977.9 2139.1,976.5 2152.2,974.8 2165.4,975.2 2178.5,977.1 2191.7,979.4 2204.8,982.7 2218.0,984.0 2231.1,984.8 2244.3,986.4 2257.4,988.4 2270.6,990.8 2283.7,994.3 2296.9,997.8 2310.0,1004.3 2323.2,1011.4 2336.3,1020.3 2349.5,1028.6 2362.6,1035.6 2375.8,1043.5 2388.9,1046.6 2402.1,1050.1 2415.2,1053.1 2428.4,1057.9 2441.5,1060.7 2454.7,1063.3 2467.8,1066.4 2481.0,1070.3 2494.1,1073.7 2507.3,1076.7 2520.4,1079.6 2533.6,1082.1 2546.7,1083.4 2559.9,1083.2 2573.0,1083.2 2586.2,1079.7 2599.3,1075.6 2612.5,1073.4 2625.6,1072.8 2638.8,1074.7 2651.9,1076.1 2665.1,1076.7 2678.2,1077.4 2691.4,1078.6 2704.5,1081.5 2717.7,1082.9 2730.8,1085.6 2744.0,1086.8 2757.1,1088.9 2770.3,1092.0 2783.4,1094.5 2796.6,1096.3 2809.7,1096.5 2822.9,1096.6 2836.0,1097.6 2849.2,1097.8 2862.3,1096.7 2875.5,1096.3 2888.6,1097.0 2901.8,1098.2 2914.9,1098.9 2928.0,1098.5 2941.2,1097.0 2954.3,1094.8 2967.5,1091.0 2980.6,1089.0 2993.8,1087.1 3006.9,1084.6 3020.1,1081.0 3033.2,1068.3 3046.4,1052.2 3059.5,1039.4 3072.7,1028.5 3085.8,1023.8 3099.0,1017.2" fill="none" stroke="#ff0000" stroke-opacity="0.7" stroke-width="2.8" stroke-linejoin="round"/>
<polyline points="8.9,1222.5 22.0,1222.4 35.2,1222.3 48.3,1222.1 61.5,1222.0 74.6,1221.6 87.8,1221.0 100.9,1220.5 114.1,1220.3 127.2,1219.9 140.4,1219.4 153.5,1219.1 166.7,1219.0 179.8,1218.9 193.0,1218.9 206.1,1218.7 219.3,1218.5 232.4,1217.8 245.6,1216.2 258.7,1213.8 271.9,1210.4 285.0,1202.2 298.1,1187.6 311.3,1173.5 324.4,1144.5 337.6,1117.5 350.7,1093.7 363.9,1072.9 377.0,1048.7 390.2,1025.7 403.3,1006.0 416.5,985.9 429.6,968.5 442.8,952.0 455.9,936.0 469.1,923.3 482.2,916.3 495.4,904.7 508.5,896.8 521.7,891.4 534.8,883.0 548.0,875.5 561.1,869.1 574.3,862.2 587.4,854.5 600.6,846.4 613.7,836.3 626.9,827.2 640.0,816.3 653.2,807.2 666.3,799.6 679.5,791.3 692.6,785.7 705.8,782.9 718.9,780.3 732.1,776.3 745.2,773.5 758.4,770.0 771.5,765.8 784.7,761.2 797.8,758.1 811.0,754.5 824.1,751.7 837.3,752.2 850.4,756.9 863.6,759.6 876.7,763.1 889.9,765.6 903.0,768.7 916.2,770.9 929.3,772.8 942.5,770.9 955.6,768.9 968.8,766.2 981.9,763.7 995.1,762.7 1008.2,761.6 1021.4,761.1 1034.5,761.2 1047.7,762.0 1060.8,762.8 1074.0,765.7 1087.1,768.1 1100.3,770.3 1113.4,770.5 1126.6,769.9 1139.7,769.8 1152.9,770.6 1166.0,772.4 1179.2,774.7 1192.3,775.7 1205.5,778.0 1218.6,780.1 1231.8,782.4 1244.9,783.3 1258.1,784.7 1271.2,783.3 1284.4,782.8 1297.5,781.7 1310.7,781.1 1323.8,781.4 1337.0,779.2 1350.1,777.0 1363.3,775.9 1376.4,775.6 1389.6,775.6 1402.7,774.8 1415.9,774.9 1429.0,773.6 1442.2,770.9 1455.3,767.4 1468.5,766.0 1481.6,765.2 1494.8,764.6 1507.9,764.7 1521.1,765.1 1534.2,765.3 1547.4,763.9 1560.5,763.4 1573.7,764.7 1586.8,766.5 1600.0,767.9 1613.1,769.9 1626.2,773.3 1639.4,776.0 1652.5,779.7 1665.7,784.3 1678.8,788.3 1692.0,791.8 1705.1,797.0 1718.3,803.6 1731.4,809.7 1744.6,815.8 1757.7,821.8 1770.9,827.5 1784.0,833.5 1797.2,839.8 1810.3,845.0 1823.5,850.8 1836.6,855.8 1849.8,861.2 1862.9,866.6 1876.1,871.3 1889.2,876.1 1902.4,880.5 1915.5,885.7 1928.7,892.8 1941.8,899.2 1955.0,902.5 1968.1,907.9 1981.3,912.3 1994.4,916.4 2007.6,920.1 2020.7,924.0 2033.9,927.4 2047.0,929.9 2060.2,931.8 2073.3,931.7 2086.5,931.5 2099.6,932.1 2112.8,934.1 2125.9,935.6 2139.1,936.7 2152.2,937.6 2165.4,939.2 2178.5,941.4 2191.7,943.7 2204.8,946.5 2218.0,948.4 2231.1,950.2 2244.3,952.2 2257.4,954.4 2270.6,956.7 2283.7,959.5 2296.9,962.3 2310.0,966.4 2323.2,970.7 2336.3,976.0 2349.5,981.2 2362.6,985.9 2375.8,991.1 2388.9,994.4 2402.1,997.9 2415.2,1001.2 2428.4,1005.2 2441.5,1008.5 2454.7,1011.5 2467.8,1014.9 2481.0,1018.5 2494.1,1021.9 2507.3,1025.2 2520.4,1028.4 2533.6,1031.4 2546.7,1034.0 2559.9,1035.8 2573.0,1037.7 2586.2,1038.0 2599.3,1038.0 2612.5,1038.5 2625.6,1039.7 2638.8,1041.7 2651.9,1043.6 2665.1,1045.1 2678.2,1046.7 2691.4,1048.3 2704.5,1050.7 2717.7,1052.5 2730.8,1054.8 2744.0,1056.5 2757.1,1058.6 2770.3,1061.0 2783.4,1063.3 2796.6,1065.2 2809.7,1066.5 2822.9,1067.8 2836.0,1069.3 2849.2,1070.5 2862.3,1071.1 2875.5,1071.9 2888.6,1073.2 2901.8,1074.6 2914.9,1075.9 2928.0,1076.6 2941.2,1076.8 2954.3,1076.7 2967.5,1075.9 2980.6,1075.6 2993.8,1075.4 3006.9,1074.8 3020.1,1073.7 3033.2,1068.8 3046.4,1062.1 3059.5,1056.4 3072.7,1051.3 3085.8,1048.4 3099.0,1044.8" fill="none" stroke="#ff7f00" stroke-opacity="0.7" stroke-width="2.8" stroke-linejoin="round"/>
<polyline points="8.9,1226.5 22.0,1226.4 35.2,1226.3 48.3,1226.1 61.5,1225.9 74.6,1225.6 87.8,1225.3 100.9,1224.9 114.1,1224.7 127.2,1224.5 140.4,1224.1 153.5,1223.9 166.7,1223.7 179.8,1223.6 193.0,1223.5 206.1,1223.3 219.3,1223.1 232.4,1222.7 245.6,1221.8 258.7,1220.4 271.9,1218.6 285.0,1214.3 298.1,1206.7 311.3,1199.2 324.4,1184.0 337.6,1169.6 350.7,1156.6 363.9,1144.8 377.0,1131.2 390.2,1117.9 403.3,1106.1 416.5,1094.0 429.6,1083.1 442.8,1072.5 455.9,1062.0 469.1,1053.1 482.2,1047.0 495.4,1038.6 508.5,1031.9 521.7,1026.5 534.8,1019.6 548.0,1013.1 561.1,1007.1 574.3,1000.9 587.4,994.3 600.6,987.4 613.7,979.6 626.9,972.1 640.0,963.7 653.2,956.2 666.3,949.4 679.5,942.3 692.6,936.5 705.8,932.1 718.9,927.8 732.1,922.9 745.2,918.5 758.4,913.9 771.5,909.0 784.7,903.8 797.8,899.4 811.0,894.8 824.1,890.6 837.3,888.1 850.4,887.8 863.6,886.5 876.7,885.8 889.9,884.6 903.0,883.8 916.2,882.6 929.3,881.4 942.5,878.3 955.6,875.1 968.8,871.7 981.9,868.4 995.1,865.7 1008.2,863.2 1021.4,860.9 1034.5,859.0 1047.7,857.4 1060.8,856.0 1074.0,855.6 1087.1,855.0 1100.3,854.4 1113.4,852.8 1126.6,850.9 1139.7,849.2 1152.9,848.1 1166.0,847.5 1179.2,847.1 1192.3,846.2 1205.5,846.0 1218.6,845.7 1231.8,845.5 1244.9,844.8 1258.1,844.2 1271.2,842.3 1284.4,840.9 1297.5,839.2 1310.7,837.8 1323.8,836.8 1337.0,834.6 1350.1,832.4 1363.3,830.7 1376.4,829.5 1389.6,828.4 1402.7,827.0 1415.9,826.0 1429.0,824.3 1442.2,822.0 1455.3,819.2 1468.5,817.5 1481.6,816.0 1494.8,814.7 1507.9,813.8 1521.1,813.0 1534.2,812.2 1547.4,810.5 1560.5,809.3 1573.7,809.1 1586.8,809.1 1600.0,809.0 1613.1,809.2 1626.2,810.1 1639.4,810.7 1652.5,812.0 1665.7,813.6 1678.8,815.0 1692.0,816.3 1705.1,818.5 1718.3,821.3 1731.4,824.1 1744.6,826.9 1757.7,829.7 1770.9,832.4 1784.0,835.3 1797.2,838.5 1810.3,841.1 1823.5,844.1 1836.6,846.8 1849.8,849.7 1862.9,852.7 1876.1,855.3 1889.2,858.0 1902.4,860.6 1915.5,863.7 1928.7,867.7 1941.8,871.4 1955.0,873.6 1968.1,876.9 1981.3,879.8 1994.4,882.4 2007.6,885.0 2020.7,887.7 2033.9,890.1 2047.0,892.1 2060.2,893.8 2073.3,894.5 2086.5,895.1 2099.6,896.2 2112.8,897.9 2125.9,899.4 2139.1,900.6 2152.2,901.8 2165.4,903.3 2178.5,905.1 2191.7,907.0 2204.8,909.2 2218.0,910.9 2231.1,912.5 2244.3,914.3 2257.4,916.1 2270.6,918.0 2283.7,920.2 2296.9,922.4 2310.0,925.3 2323.2,928.3 2336.3,931.8 2349.5,935.3 2362.6,938.6 2375.8,942.1 2388.9,944.8 2402.1,947.5 2415.2,950.2 2428.4,953.2 2441.5,955.9 2454.7,958.5 2467.8,961.2 2481.0,964.1 2494.1,966.9 2507.3,969.7 2520.4,972.4 2533.6,975.0 2546.7,977.4 2559.9,979.5 2573.0,981.5 2586.2,982.8 2599.3,983.9 2612.5,985.2 2625.6,986.9 2638.8,988.9 2651.9,990.9 2665.1,992.8 2678.2,994.6 2691.4,996.4 2704.5,998.7 2717.7,1000.6 2730.8,1002.8 2744.0,1004.7 2757.1,1006.8 2770.3,1009.0 2783.4,1011.2 2796.6,1013.2 2809.7,1014.9 2822.9,1016.5 2836.0,1018.3 2849.2,1019.9 2862.3,1021.2 2875.5,1022.7 2888.6,1024.3 2901.8,1025.9 2914.9,1027.5 2928.0,1028.9 2941.2,1029.9 2954.3,1030.8 2967.5,1031.3 2980.6,1032.0 2993.8,1032.8 3006.9,1033.3 3020.1,1033.6 3033.2,1031.9 3046.4,1029.3 3059.5,1027.1 3072.7,1025.0 3085.8,1024.1 3099.0,1022.8" fill="none" stroke="#00ffff" stroke-opacity="0.7" stroke-width="2.8" stroke-linejoin="round"/>
<polyline points="8.9,1232.5 22.0,1232.4 35.2,1232.3 48.3,1232.1 61.5,1232.0 74.6,1231.8 87.8,1231.5 100.9,1231.3 114.1,1231.1 127.2,1230.9 140.4,1230.7 153.5,1230.5 166.7,1230.4 179.8,1230.2 193.0,1230.1 206.1,1229.9 219.3,1229.8 232.4,1229.5 245.6,1229.0 258.7,1228.2 271.9,1227.2 285.0,1225.0 298.1,1221.0 311.3,1217.1 324.4,1209.3 337.6,1201.8 350.7,1195.0 363.9,1188.7 377.0,1181.4 390.2,1174.2 403.3,1167.8 416.5,1161.0 429.6,1154.9 442.8,1148.9 455.9,1142.8 469.1,1137.5 482.2,1133.6 495.4,1128.5 508.5,1124.3 521.7,1120.7 534.8,1116.3 548.0,1112.0 561.1,1108.0 574.3,1103.9 587.4,1099.6 600.6,1095.1 613.7,1090.0 626.9,1085.2 640.0,1079.9 653.2,1074.9 666.3,1070.4 679.5,1065.5 692.6,1061.4 705.8,1058.0 718.9,1054.6 732.1,1050.8 745.2,1047.4 758.4,1043.8 771.5,1040.0 784.7,1036.1 797.8,1032.5 811.0,1028.9 824.1,1025.4 837.3,1022.9 850.4,1021.4 863.6,1019.4 876.7,1017.7 889.9,1015.8 903.0,1014.1 916.2,1012.2 929.3,1010.3 942.5,1007.5 955.6,1004.6 968.8,1001.6 981.9,998.6 995.1,996.0 1008.2,993.4 1021.4,991.0 1034.5,988.7 1047.7,986.6 1060.8,984.6 1074.0,983.1 1087.1,981.6 1100.3,980.0 1113.4,978.0 1126.6,975.8 1139.7,973.7 1152.9,971.9 1166.0,970.3 1179.2,968.9 1192.3,967.3 1205.5,965.9 1218.6,964.6 1231.8,963.3 1244.9,961.8 1258.1,960.3 1271.2,958.3 1284.4,956.4 1297.5,954.4 1310.7,952.5 1323.8,950.9 1337.0,948.6 1350.1,946.4 1363.3,944.4 1376.4,942.7 1389.6,941.0 1402.7,939.2 1415.9,937.6 1429.0,935.6 1442.2,933.3 1455.3,930.8 1468.5,928.8 1481.6,927.0 1494.8,925.2 1507.9,923.7 1521.1,922.2 1534.2,920.7 1547.4,918.8 1560.5,917.1 1573.7,915.9 1586.8,914.8 1600.0,913.7 1613.1,912.8 1626.2,912.2 1639.4,911.5 1652.5,911.1 1665.7,911.0 1678.8,910.7 1692.0,910.4 1705.1,910.6 1718.3,911.1 1731.4,911.6 1744.6,912.1 1757.7,912.7 1770.9,913.2 1784.0,913.9 1797.2,914.7 1810.3,915.3 1823.5,916.0 1836.6,916.6 1849.8,917.4 1862.9,918.2 1876.1,918.9 1889.2,919.6 1902.4,920.3 1915.5,921.3 1928.7,922.7 1941.8,924.0 1955.0,924.6 1968.1,925.8 1981.3,926.7 1994.4,927.6 2007.6,928.4 2020.7,929.3 2033.9,930.1 2047.0,930.8 2060.2,931.2 2073.3,931.2 2086.5,931.2 2099.6,931.3 2112.8,931.8 2125.9,932.2 2139.1,932.5 2152.2,932.8 2165.4,933.3 2178.5,933.9 2191.7,934.6 2204.8,935.3 2218.0,935.9 2231.1,936.5 2244.3,937.2 2257.4,937.9 2270.6,938.6 2283.7,939.5 2296.9,940.4 2310.0,941.7 2323.2,943.0 2336.3,944.6 2349.5,946.3 2362.6,947.8 2375.8,949.5 2388.9,950.8 2402.1,952.1 2415.2,953.4 2428.4,954.9 2441.5,956.2 2454.7,957.5 2467.8,958.9 2481.0,960.3 2494.1,961.8 2507.3,963.2 2520.4,964.7 2533.6,966.1 2546.7,967.4 2559.9,968.5 2573.0,969.6 2586.2,970.4 2599.3,971.1 2612.5,971.9 2625.6,972.8 2638.8,974.0 2651.9,975.2 2665.1,976.2 2678.2,977.3 2691.4,978.4 2704.5,979.7 2717.7,980.9 2730.8,982.2 2744.0,983.3 2757.1,984.6 2770.3,985.9 2783.4,987.3 2796.6,988.5 2809.7,989.6 2822.9,990.7 2836.0,991.8 2849.2,992.9 2862.3,993.8 2875.5,994.8 2888.6,995.9 2901.8,997.0 2914.9,998.1 2928.0,999.1 2941.2,999.9 2954.3,1000.6 2967.5,1001.2 2980.6,1001.9 2993.8,1002.5 3006.9,1003.1 3020.1,1003.6 3033.2,1003.0 3046.4,1002.0 3059.5,1001.1 3072.7,1000.4 3085.8,1000.2 3099.0,999.7" fill="none" stroke="#0000ff" stroke-opacity="0.7" stroke-width="2.8" stroke-linejoin="round"/>
<line x1="22.0" y1="1220.0" x2="22.0" y2="1221.5" stroke="#26a69a" stroke-width="1.8"/>
<rect x="18.0" y="1221.3" width="8.0" height="0.5" fill="#26a69a" stroke="#8f8d99" stroke-width="1.75"/>
<line x1="35.2" y1="1215.1" x2="35.2" y2="1222.8" stroke="#26a69a" stroke-width="1.8"/>
<rect x="31.2" y="1221.3" width="8.0" height="0.5" fill="#26a69a" stroke="#8f8d99" stroke-width="1.75"/>
<line x1="48.3" y1="1212.9" x2="48.3" y2="1226.1" stroke="#26a69a" stroke-width="1.8"/>
<rect x="44.3" y="1216.6" width="8.0" height="3.7" fill="#26a69a" stroke="#8f8d99" stroke-width="1.75"/>
<line x1="61.5" y1="1211.0" x2="61.5" y2="1225.0" stroke="#ef5350" stroke-width="1.8"/>
<rect x="56.6" y="1215.1" width="9.8" height="4.4" fill="#ef5350"/>
<line x1="74.6" y1="1208.0" x2="74.6" y2="1221.7" stroke="#26a69a" stroke-width="1.8"/>
<rect x="70.6" y="1212.2" width="8.0" height="6.4" fill="#26a69a" stroke="#8f8d99" stroke-width="1.75"/>
<line x1="87.8" y1="1202.0" x2="87.8" y2="1213.5" stroke="#26a69a" stroke-width="1.8"/>
<rect x="83.8" y="1208.9" width="8.0" height="1.5" fill="#26a69a" stroke="#8f8d99" stroke-width="1.75"/>
<line x1="100.9" y1="1202.0" x2="100.9" y2="1213.5" stroke="#26a69a" stroke-width="1.8"/>
<rect x="96.9" y="1207.6" width="8.0" height="0.5" fill="#26a69a" stroke="#8f8d99" stroke-width="1.75"/>
<line x1="114.1" y1="1207.1" x2="114.1" y2="1220.6" stroke="#ef5350" stroke-width="1.8"/>
<rect x="109.2" y="1207.1" width="9.8" height="8.5" fill="#ef5350"/>
<line x1="127.2" y1="1208.0" x2="127.2" y2="1215.1" stroke="#26a69a" stroke-width="1.8"/>
<rect x="123.2" y="1212.2" width="8.0" height="2.0" fill="#26a69a" stroke="#8f8d99" stroke-width="1.75"/>
<line x1="140.4" y1="1204.7" x2="140.4" y2="1212.7" stroke="#26a69a" stroke-width="1.8"/>
<rect x="136.4" y="1207.3" width="8.0" height="3.1" fill="#26a69a" stroke="#8f8d99" stroke-width="1.75"/>
<line x1="153.5" y1="1204.2" x2="153.5" y2="1220.4" stroke="#ef5350" stroke-width="1.8"/>
<rect x="148.6" y="1207.1" width="9.8" height="4.5" fill="#ef5350"/>
<line x1="166.7" y1="1210.2" x2="166.7" y2="1223.7" stroke="#ef5350" stroke-width="1.8"/>
<rect x="161.8" y="1211.0" width="9.8" height="6.3" fill="#ef5350"/>
<line x1="179.8" y1="1212.2" x2="179.8" y2="1221.7" stroke="#ef5350" stroke-width="1.8"/>
<rect x="174.9" y="1216.4" width="9.8" height="2.0" fill="#ef5350"/>
<line x1="193.0" y1="1215.1" x2="193.0" y2="1222.8" stroke="#ef5350" stroke-width="1.8"/>
<rect x="188.1" y="1216.5" width="9.8" height="2.0" fill="#ef5350"/>
<line x1="206.1" y1="1212.9" x2="206.1" y2="1222.8" stroke="#26a69a" stroke-width="1.8"/>
<rect x="202.1" y="1215.5" width="8.0" height="2.0" fill="#26a69a" stroke="#8f8d99" stroke-width="1.75"/>
<line x1="219.3" y1="1212.4" x2="219.3" y2="1216.8" stroke="#26a69a" stroke-width="1.8"/>
<rect x="215.3" y="1213.5" width="8.0" height="0.5" fill="#26a69a" stroke="#8f8d99" stroke-width="1.75"/>
<line x1="232.4" y1="1196.0" x2="232.4" y2="1219.7" stroke="#26a69a" stroke-width="1.8"/>
<rect x="228.4" y="1203.4" width="8.0" height="9.1" fill="#26a69a" stroke="#8f8d99" stroke-width="1.75"/>
<line x1="245.6" y1="1161.0" x2="245.6" y2="1204.7" stroke="#26a69a" stroke-width="1.8"/>
<rect x="241.6" y="1178.3" width="8.0" height="22.3" fill="#26a69a" stroke="#8f8d99" stroke-width="1.75"/>
<line x1="258.7" y1="1129.3" x2="258.7" y2="1205.8" stroke="#26a69a" stroke-width="1.8"/>
<rect x="254.7" y="1154.2" width="8.0" height="22.3" fill="#26a69a" stroke="#8f8d99" stroke-width="1.75"/>
<line x1="271.9" y1="1063.3" x2="271.9" y2="1161.0" stroke="#26a69a" stroke-width="1.8"/>
<rect x="267.9" y="1129.4" width="8.0" height="23.1" fill="#26a69a" stroke="#8f8d99" stroke-width="1.75"/>
<line x1="285.0" y1="987.6" x2="285.0" y2="1131.5" stroke="#26a69a" stroke-width="1.8"/>
<rect x="281.0" y="1000.6" width="8.0" height="126.4" fill="#26a69a" stroke="#8f8d99" stroke-width="1.75"/>
<line x1="298.1" y1="801.8" x2="298.1" y2="1008.8" stroke="#26a69a" stroke-width="1.8"/>
<rect x="294.1" y="830.9" width="8.0" height="167.0" fill="#26a69a" stroke="#8f8d99" stroke-width="1.75"/>
<line x1="311.3" y1="790.6" x2="311.3" y2="934.5" stroke="#ef5350" stroke-width="1.8"/>
<rect x="306.4" y="827.9" width="9.8" height="2.0" fill="#ef5350"/>
<line x1="324.4" y1="415.2" x2="324.4" y2="864.8" stroke="#26a69a" stroke-width="1.8"/>
<rect x="320.4" y="433.6" width="8.0" height="396.4" fill="#26a69a" stroke="#8f8d99" stroke-width="1.75"/>
<line x1="337.6" y1="141.2" x2="337.6" y2="740.3" stroke="#ef5350" stroke-width="1.8"/>
<rect x="332.7" y="432.7" width="9.8" height="23.0" fill="#ef5350"/>
<line x1="350.7" y1="326.5" x2="350.7" y2="594.7" stroke="#ef5350" stroke-width="1.8"/>
<rect x="345.8" y="455.7" width="9.8" height="55.7" fill="#ef5350"/>
<line x1="363.9" y1="468.4" x2="363.9" y2="628.9" stroke="#ef5350" stroke-width="1.8"/>
<rect x="359.0" y="511.4" width="9.8" height="52.4" fill="#ef5350"/>
<line x1="377.0" y1="370.4" x2="377.0" y2="582.0" stroke="#26a69a" stroke-width="1.8"/>
<rect x="373.0" y="455.7" width="8.0" height="106.3" fill="#26a69a" stroke="#8f8d99" stroke-width="1.75"/>
<line x1="390.2" y1="401.6" x2="390.2" y2="500.8" stroke="#ef5350" stroke-width="1.8"/>
<rect x="385.3" y="454.2" width="9.8" height="7.3" fill="#ef5350"/>
<line x1="403.3" y1="447.2" x2="403.3" y2="558.7" stroke="#ef5350" stroke-width="1.8"/>
<rect x="398.4" y="460.0" width="9.8" height="63.6" fill="#ef5350"/>
<line x1="416.5" y1="451.8" x2="416.5" y2="604.7" stroke="#26a69a" stroke-width="1.8"/>
<rect x="412.5" y="494.2" width="8.0" height="27.9" fill="#26a69a" stroke="#8f8d99" stroke-width="1.75"/>
<line x1="429.6" y1="463.3" x2="429.6" y2="607.7" stroke="#ef5350" stroke-width="1.8"/>
<rect x="424.7" y="493.3" width="9.8" height="50.3" fill="#ef5350"/>
<line x1="442.8" y1="501.7" x2="442.8" y2="573.8" stroke="#ef5350" stroke-width="1.8"/>
<rect x="437.9" y="542.3" width="9.8" height="6.1" fill="#ef5350"/>
<line x1="455.9" y1="463.3" x2="455.9" y2="595.6" stroke="#26a69a" stroke-width="1.8"/>
<rect x="451.9" y="543.8" width="8.0" height="3.0" fill="#26a69a" stroke="#8f8d99" stroke-width="1.75"/>
<line x1="469.1" y1="526.0" x2="469.1" y2="697.0" stroke="#ef5350" stroke-width="1.8"/>
<rect x="464.2" y="542.3" width="9.8" height="69.0" fill="#ef5350"/>
<line x1="482.2" y1="596.9" x2="482.2" y2="792.7" stroke="#ef5350" stroke-width="1.8"/>
<rect x="477.3" y="610.9" width="9.8" height="134.5" fill="#ef5350"/>
<line x1="495.4" y1="602.2" x2="495.4" y2="778.5" stroke="#26a69a" stroke-width="1.8"/>
<rect x="491.4" y="622.5" width="8.0" height="121.4" fill="#26a69a" stroke="#8f8d99" stroke-width="1.75"/>
<line x1="508.5" y1="620.5" x2="508.5" y2="716.6" stroke="#ef5350" stroke-width="1.8"/>
<rect x="503.6" y="621.1" width="9.8" height="81.3" fill="#ef5350"/>
<line x1="521.7" y1="685.6" x2="521.7" y2="782.5" stroke="#ef5350" stroke-width="1.8"/>
<rect x="516.8" y="702.3" width="9.8" height="58.1" fill="#ef5350"/>
<line x1="534.8" y1="667.4" x2="534.8" y2="796.5" stroke="#26a69a" stroke-width="1.8"/>
<rect x="530.8" y="676.6" width="8.0" height="83.0" fill="#26a69a" stroke="#8f8d99" stroke-width="1.75"/>
<line x1="548.0" y1="648.0" x2="548.0" y2="718.5" stroke="#ef5350" stroke-width="1.8"/>
<rect x="543.1" y="674.9" width="9.8" height="16.7" fill="#ef5350"/>
<line x1="561.1" y1="649.3" x2="561.1" y2="731.4" stroke="#ef5350" stroke-width="1.8"/>
<rect x="556.2" y="691.6" width="9.8" height="20.2" fill="#ef5350"/>
<line x1="574.3" y1="652.8" x2="574.3" y2="717.4" stroke="#26a69a" stroke-width="1.8"/>
<rect x="570.3" y="695.2" width="8.0" height="15.7" fill="#26a69a" stroke="#8f8d99" stroke-width="1.75"/>
<line x1="587.4" y1="657.4" x2="587.4" y2="694.3" stroke="#26a69a" stroke-width="1.8"/>
<rect x="583.4" y="667.2" width="8.0" height="25.1" fill="#26a69a" stroke="#8f8d99" stroke-width="1.75"/>
<line x1="600.6" y1="588.8" x2="600.6" y2="683.8" stroke="#26a69a" stroke-width="1.8"/>
<rect x="596.6" y="648.3" width="8.0" height="17.0" fill="#26a69a" stroke="#8f8d99" stroke-width="1.75"/>
<line x1="613.7" y1="553.3" x2="613.7" y2="652.8" stroke="#26a69a" stroke-width="1.8"/>
<rect x="609.7" y="590.2" width="8.0" height="56.3" fill="#26a69a" stroke="#8f8d99" stroke-width="1.75"/>
<line x1="626.9" y1="551.9" x2="626.9" y2="632.6" stroke="#ef5350" stroke-width="1.8"/>
<rect x="622.0" y="589.3" width="9.8" height="14.3" fill="#ef5350"/>
<line x1="640.0" y1="522.9" x2="640.0" y2="613.5" stroke="#26a69a" stroke-width="1.8"/>
<rect x="636.0" y="549.3" width="8.0" height="52.8" fill="#26a69a" stroke="#8f8d99" stroke-width="1.75"/>
<line x1="653.2" y1="543.9" x2="653.2" y2="604.4" stroke="#ef5350" stroke-width="1.8"/>
<rect x="648.3" y="548.4" width="9.8" height="37.1" fill="#ef5350"/>
<line x1="666.3" y1="578.0" x2="666.3" y2="622.7" stroke="#ef5350" stroke-width="1.8"/>
<rect x="661.4" y="585.6" width="9.8" height="28.0" fill="#ef5350"/>
<line x1="679.5" y1="584.2" x2="679.5" y2="616.2" stroke="#26a69a" stroke-width="1.8"/>
<rect x="675.5" y="587.5" width="8.0" height="25.1" fill="#26a69a" stroke="#8f8d99" stroke-width="1.75"/>
<line x1="692.6" y1="586.6" x2="692.6" y2="677.6" stroke="#ef5350" stroke-width="1.8"/>
<rect x="687.7" y="586.6" width="9.8" height="62.7" fill="#ef5350"/>
<line x1="705.8" y1="649.3" x2="705.8" y2="736.0" stroke="#ef5350" stroke-width="1.8"/>
<rect x="700.9" y="649.3" width="9.8" height="65.9" fill="#ef5350"/>
<line x1="718.9" y1="682.4" x2="718.9" y2="741.6" stroke="#ef5350" stroke-width="1.8"/>
<rect x="714.0" y="715.2" width="9.8" height="2.0" fill="#ef5350"/>
<line x1="732.1" y1="652.8" x2="732.1" y2="730.8" stroke="#26a69a" stroke-width="1.8"/>
<rect x="728.1" y="678.5" width="8.0" height="37.5" fill="#26a69a" stroke="#8f8d99" stroke-width="1.75"/>
<line x1="745.2" y1="674.9" x2="745.2" y2="717.4" stroke="#ef5350" stroke-width="1.8"/>
<rect x="740.3" y="677.0" width="9.8" height="27.4" fill="#ef5350"/>
<line x1="758.4" y1="674.2" x2="758.4" y2="706.5" stroke="#26a69a" stroke-width="1.8"/>
<rect x="754.4" y="686.4" width="8.0" height="17.0" fill="#26a69a" stroke="#8f8d99" stroke-width="1.75"/>
<line x1="771.5" y1="637.8" x2="771.5" y2="685.5" stroke="#26a69a" stroke-width="1.8"/>
<rect x="767.5" y="663.8" width="8.0" height="20.3" fill="#26a69a" stroke="#8f8d99" stroke-width="1.75"/>
<line x1="784.7" y1="622.2" x2="784.7" y2="675.5" stroke="#26a69a" stroke-width="1.8"/>
<rect x="780.7" y="647.4" width="8.0" height="14.6" fill="#26a69a" stroke="#8f8d99" stroke-width="1.75"/>
<line x1="797.8" y1="622.2" x2="797.8" y2="690.3" stroke="#ef5350" stroke-width="1.8"/>
<rect x="792.9" y="646.5" width="9.8" height="36.6" fill="#ef5350"/>
<line x1="811.0" y1="659.4" x2="811.0" y2="714.5" stroke="#26a69a" stroke-width="1.8"/>
<rect x="807.0" y="667.0" width="8.0" height="15.2" fill="#26a69a" stroke="#8f8d99" stroke-width="1.75"/>
<line x1="824.1" y1="663.4" x2="824.1" y2="690.3" stroke="#ef5350" stroke-width="1.8"/>
<rect x="819.2" y="666.1" width="9.8" height="16.1" fill="#ef5350"/>
<line x1="837.3" y1="663.4" x2="837.3" y2="863.3" stroke="#ef5350" stroke-width="1.8"/>
<rect x="832.4" y="682.2" width="9.8" height="82.1" fill="#ef5350"/>
<line x1="850.4" y1="757.6" x2="850.4" y2="955.5" stroke="#ef5350" stroke-width="1.8"/>
<rect x="845.5" y="764.3" width="9.8" height="109.0" fill="#ef5350"/>
<line x1="863.6" y1="816.8" x2="863.6" y2="889.4" stroke="#26a69a" stroke-width="1.8"/>
<rect x="859.6" y="826.3" width="8.0" height="45.6" fill="#26a69a" stroke="#8f8d99" stroke-width="1.75"/>
<line x1="876.7" y1="792.0" x2="876.7" y2="875.4" stroke="#ef5350" stroke-width="1.8"/>
<rect x="871.8" y="825.4" width="9.8" height="23.7" fill="#ef5350"/>
<line x1="889.9" y1="819.5" x2="889.9" y2="882.7" stroke="#26a69a" stroke-width="1.8"/>
<rect x="885.9" y="827.1" width="8.0" height="21.1" fill="#26a69a" stroke="#8f8d99" stroke-width="1.75"/>
<line x1="903.0" y1="814.9" x2="903.0" y2="865.2" stroke="#ef5350" stroke-width="1.8"/>
<rect x="898.1" y="826.2" width="9.8" height="19.4" fill="#ef5350"/>
<line x1="916.2" y1="818.1" x2="916.2" y2="863.3" stroke="#26a69a" stroke-width="1.8"/>
<rect x="912.2" y="824.4" width="8.0" height="19.7" fill="#26a69a" stroke="#8f8d99" stroke-width="1.75"/>
<line x1="929.3" y1="800.1" x2="929.3" y2="880.8" stroke="#26a69a" stroke-width="1.8"/>
<rect x="925.3" y="822.0" width="8.0" height="0.5" fill="#26a69a" stroke="#8f8d99" stroke-width="1.75"/>
<line x1="942.5" y1="705.1" x2="942.5" y2="827.0" stroke="#26a69a" stroke-width="1.8"/>
<rect x="938.5" y="723.5" width="8.0" height="96.4" fill="#26a69a" stroke="#8f8d99" stroke-width="1.75"/>
<line x1="955.6" y1="662.1" x2="955.6" y2="744.1" stroke="#26a69a" stroke-width="1.8"/>
<rect x="951.6" y="720.8" width="8.0" height="0.5" fill="#26a69a" stroke="#8f8d99" stroke-width="1.75"/>
<line x1="968.8" y1="676.9" x2="968.8" y2="722.1" stroke="#26a69a" stroke-width="1.8"/>
<rect x="964.8" y="702.5" width="8.0" height="15.7" fill="#26a69a" stroke="#8f8d99" stroke-width="1.75"/>
<line x1="981.9" y1="663.4" x2="981.9" y2="721.3" stroke="#ef5350" stroke-width="1.8"/>
<rect x="977.0" y="701.6" width="9.8" height="2.0" fill="#ef5350"/>
<line x1="995.1" y1="677.4" x2="995.1" y2="749.5" stroke="#ef5350" stroke-width="1.8"/>
<rect x="990.2" y="703.2" width="9.8" height="32.8" fill="#ef5350"/>
<line x1="1008.2" y1="711.3" x2="1008.2" y2="772.4" stroke="#26a69a" stroke-width="1.8"/>
<rect x="1004.2" y="735.9" width="8.0" height="0.5" fill="#26a69a" stroke="#8f8d99" stroke-width="1.75"/>
<line x1="1021.4" y1="727.4" x2="1021.4" y2="758.9" stroke="#ef5350" stroke-width="1.8"/>
<rect x="1016.5" y="736.1" width="9.8" height="14.0" fill="#ef5350"/>
<line x1="1034.5" y1="746.8" x2="1034.5" y2="786.6" stroke="#ef5350" stroke-width="1.8"/>
<rect x="1029.6" y="750.9" width="9.8" height="12.6" fill="#ef5350"/>
<line x1="1047.7" y1="752.0" x2="1047.7" y2="784.3" stroke="#ef5350" stroke-width="1.8"/>
<rect x="1042.8" y="764.1" width="9.8" height="16.1" fill="#ef5350"/>
<line x1="1060.8" y1="774.9" x2="1060.8" y2="815.2" stroke="#ef5350" stroke-width="1.8"/>
<rect x="1055.9" y="780.3" width="9.8" height="4.0" fill="#ef5350"/>
<line x1="1074.0" y1="766.8" x2="1074.0" y2="852.9" stroke="#ef5350" stroke-width="1.8"/>
<rect x="1069.1" y="784.3" width="9.8" height="51.1" fill="#ef5350"/>
<line x1="1087.1" y1="812.0" x2="1087.1" y2="888.4" stroke="#26a69a" stroke-width="1.8"/>
<rect x="1083.1" y="829.1" width="8.0" height="3.6" fill="#26a69a" stroke="#8f8d99" stroke-width="1.75"/>
<line x1="1100.3" y1="801.8" x2="1100.3" y2="860.4" stroke="#26a69a" stroke-width="1.8"/>
<rect x="1096.3" y="824.2" width="8.0" height="1.4" fill="#26a69a" stroke="#8f8d99" stroke-width="1.75"/>
<line x1="1113.4" y1="764.1" x2="1113.4" y2="827.4" stroke="#26a69a" stroke-width="1.8"/>
<rect x="1109.4" y="775.2" width="8.0" height="47.2" fill="#26a69a" stroke="#8f8d99" stroke-width="1.75"/>
<line x1="1126.6" y1="717.8" x2="1126.6" y2="777.6" stroke="#26a69a" stroke-width="1.8"/>
<rect x="1122.6" y="756.4" width="8.0" height="17.0" fill="#26a69a" stroke="#8f8d99" stroke-width="1.75"/>
<line x1="1139.7" y1="750.1" x2="1139.7" y2="776.2" stroke="#ef5350" stroke-width="1.8"/>
<rect x="1134.8" y="756.1" width="9.8" height="10.8" fill="#ef5350"/>
<line x1="1152.9" y1="734.5" x2="1152.9" y2="791.6" stroke="#ef5350" stroke-width="1.8"/>
<rect x="1148.0" y="766.3" width="9.8" height="24.2" fill="#ef5350"/>
<line x1="1166.0" y1="780.3" x2="1166.0" y2="817.9" stroke="#ef5350" stroke-width="1.8"/>
<rect x="1161.1" y="791.0" width="9.8" height="26.4" fill="#ef5350"/>
<line x1="1179.2" y1="809.3" x2="1179.2" y2="835.4" stroke="#ef5350" stroke-width="1.8"/>
<rect x="1174.3" y="817.4" width="9.8" height="12.6" fill="#ef5350"/>
<line x1="1192.3" y1="793.2" x2="1192.3" y2="836.8" stroke="#26a69a" stroke-width="1.8"/>
<rect x="1188.3" y="803.2" width="8.0" height="25.9" fill="#26a69a" stroke="#8f8d99" stroke-width="1.75"/>
<line x1="1205.5" y1="798.3" x2="1205.5" y2="841.6" stroke="#ef5350" stroke-width="1.8"/>
<rect x="1200.6" y="801.8" width="9.8" height="32.3" fill="#ef5350"/>
<line x1="1218.6" y1="819.3" x2="1218.6" y2="835.4" stroke="#26a69a" stroke-width="1.8"/>
<rect x="1214.6" y="832.8" width="8.0" height="0.5" fill="#26a69a" stroke="#8f8d99" stroke-width="1.75"/>
<line x1="1231.8" y1="823.9" x2="1231.8" y2="843.5" stroke="#ef5350" stroke-width="1.8"/>
<rect x="1226.9" y="830.8" width="9.8" height="5.9" fill="#ef5350"/>
<line x1="1244.9" y1="766.8" x2="1244.9" y2="858.8" stroke="#26a69a" stroke-width="1.8"/>
<rect x="1240.9" y="807.5" width="8.0" height="28.3" fill="#26a69a" stroke="#8f8d99" stroke-width="1.75"/>
<line x1="1258.1" y1="773.0" x2="1258.1" y2="819.3" stroke="#ef5350" stroke-width="1.8"/>
<rect x="1253.2" y="806.6" width="9.8" height="10.8" fill="#ef5350"/>
<line x1="1271.2" y1="740.7" x2="1271.2" y2="819.3" stroke="#26a69a" stroke-width="1.8"/>
<rect x="1267.2" y="750.8" width="8.0" height="64.9" fill="#26a69a" stroke="#8f8d99" stroke-width="1.75"/>
<line x1="1284.4" y1="731.0" x2="1284.4" y2="780.8" stroke="#ef5350" stroke-width="1.8"/>
<rect x="1279.5" y="749.3" width="9.8" height="20.7" fill="#ef5350"/>
<line x1="1297.5" y1="748.0" x2="1297.5" y2="780.3" stroke="#26a69a" stroke-width="1.8"/>
<rect x="1293.5" y="757.5" width="8.0" height="11.7" fill="#26a69a" stroke="#8f8d99" stroke-width="1.75"/>
<line x1="1310.7" y1="751.2" x2="1310.7" y2="775.4" stroke="#ef5350" stroke-width="1.8"/>
<rect x="1305.8" y="757.4" width="9.8" height="6.7" fill="#ef5350"/>
<line x1="1323.8" y1="753.9" x2="1323.8" y2="798.6" stroke="#ef5350" stroke-width="1.8"/>
<rect x="1318.9" y="764.1" width="9.8" height="26.9" fill="#ef5350"/>
<line x1="1337.0" y1="723.0" x2="1337.0" y2="800.4" stroke="#26a69a" stroke-width="1.8"/>
<rect x="1333.0" y="726.0" width="8.0" height="64.1" fill="#26a69a" stroke="#8f8d99" stroke-width="1.75"/>
<line x1="1350.1" y1="707.1" x2="1350.1" y2="755.5" stroke="#26a69a" stroke-width="1.8"/>
<rect x="1346.1" y="724.1" width="8.0" height="0.5" fill="#26a69a" stroke="#8f8d99" stroke-width="1.75"/>
<line x1="1363.3" y1="702.2" x2="1363.3" y2="756.1" stroke="#ef5350" stroke-width="1.8"/>
<rect x="1358.4" y="724.3" width="9.8" height="23.1" fill="#ef5350"/>
<line x1="1376.4" y1="735.1" x2="1376.4" y2="804.5" stroke="#ef5350" stroke-width="1.8"/>
<rect x="1371.5" y="747.4" width="9.8" height="22.1" fill="#ef5350"/>
<line x1="1389.6" y1="753.9" x2="1389.6" y2="797.8" stroke="#ef5350" stroke-width="1.8"/>
<rect x="1384.7" y="769.5" width="9.8" height="5.9" fill="#ef5350"/>
<line x1="1402.7" y1="748.8" x2="1402.7" y2="777.6" stroke="#26a69a" stroke-width="1.8"/>
<rect x="1398.7" y="756.4" width="8.0" height="17.6" fill="#26a69a" stroke="#8f8d99" stroke-width="1.75"/>
<line x1="1415.9" y1="752.0" x2="1415.9" y2="782.4" stroke="#ef5350" stroke-width="1.8"/>
<rect x="1411.0" y="755.5" width="9.8" height="21.5" fill="#ef5350"/>
<line x1="1429.0" y1="720.3" x2="1429.0" y2="777.6" stroke="#26a69a" stroke-width="1.8"/>
<rect x="1425.0" y="742.2" width="8.0" height="34.0" fill="#26a69a" stroke="#8f8d99" stroke-width="1.75"/>
<line x1="1442.2" y1="686.1" x2="1442.2" y2="773.5" stroke="#26a69a" stroke-width="1.8"/>
<rect x="1438.2" y="706.4" width="8.0" height="34.0" fill="#26a69a" stroke="#8f8d99" stroke-width="1.75"/>
<line x1="1455.3" y1="624.2" x2="1455.3" y2="711.7" stroke="#26a69a" stroke-width="1.8"/>
<rect x="1451.3" y="682.2" width="8.0" height="21.9" fill="#26a69a" stroke="#8f8d99" stroke-width="1.75"/>
<line x1="1468.5" y1="643.0" x2="1468.5" y2="738.6" stroke="#ef5350" stroke-width="1.8"/>
<rect x="1463.6" y="681.3" width="9.8" height="50.6" fill="#ef5350"/>
<line x1="1481.6" y1="717.0" x2="1481.6" y2="760.6" stroke="#ef5350" stroke-width="1.8"/>
<rect x="1476.7" y="731.8" width="9.8" height="12.6" fill="#ef5350"/>
<line x1="1494.8" y1="741.8" x2="1494.8" y2="753.9" stroke="#ef5350" stroke-width="1.8"/>
<rect x="1489.9" y="744.5" width="9.8" height="5.4" fill="#ef5350"/>
<line x1="1507.9" y1="741.8" x2="1507.9" y2="785.6" stroke="#ef5350" stroke-width="1.8"/>
<rect x="1503.0" y="749.3" width="9.8" height="19.4" fill="#ef5350"/>
<line x1="1521.1" y1="744.8" x2="1521.1" y2="778.1" stroke="#ef5350" stroke-width="1.8"/>
<rect x="1516.2" y="769.5" width="9.8" height="4.8" fill="#ef5350"/>
<line x1="1534.2" y1="766.8" x2="1534.2" y2="822.0" stroke="#26a69a" stroke-width="1.8"/>
<rect x="1530.2" y="770.4" width="8.0" height="3.0" fill="#26a69a" stroke="#8f8d99" stroke-width="1.75"/>
<line x1="1547.4" y1="717.0" x2="1547.4" y2="771.4" stroke="#26a69a" stroke-width="1.8"/>
<rect x="1543.4" y="730.6" width="8.0" height="38.0" fill="#26a69a" stroke="#8f8d99" stroke-width="1.75"/>
<line x1="1560.5" y1="721.1" x2="1560.5" y2="758.7" stroke="#ef5350" stroke-width="1.8"/>
<rect x="1555.6" y="729.1" width="9.8" height="21.5" fill="#ef5350"/>
<line x1="1573.7" y1="741.8" x2="1573.7" y2="862.3" stroke="#ef5350" stroke-width="1.8"/>
<rect x="1568.8" y="750.7" width="9.8" height="45.7" fill="#ef5350"/>
<line x1="1586.8" y1="781.6" x2="1586.8" y2="815.2" stroke="#ef5350" stroke-width="1.8"/>
<rect x="1581.9" y="796.4" width="9.8" height="14.0" fill="#ef5350"/>
<line x1="1600.0" y1="797.2" x2="1600.0" y2="817.4" stroke="#26a69a" stroke-width="1.8"/>
<rect x="1596.0" y="803.2" width="8.0" height="6.3" fill="#26a69a" stroke="#8f8d99" stroke-width="1.75"/>
<line x1="1613.1" y1="797.8" x2="1613.1" y2="825.5" stroke="#ef5350" stroke-width="1.8"/>
<rect x="1608.2" y="802.3" width="9.8" height="17.0" fill="#ef5350"/>
<line x1="1626.2" y1="817.5" x2="1626.2" y2="874.5" stroke="#ef5350" stroke-width="1.8"/>
<rect x="1621.3" y="819.4" width="9.8" height="38.2" fill="#ef5350"/>
<line x1="1639.4" y1="809.4" x2="1639.4" y2="871.8" stroke="#26a69a" stroke-width="1.8"/>
<rect x="1635.4" y="841.8" width="8.0" height="14.9" fill="#26a69a" stroke="#8f8d99" stroke-width="1.75"/>
<line x1="1652.5" y1="840.1" x2="1652.5" y2="876.7" stroke="#ef5350" stroke-width="1.8"/>
<rect x="1647.6" y="840.1" width="9.8" height="31.7" fill="#ef5350"/>
<line x1="1665.7" y1="849.0" x2="1665.7" y2="917.6" stroke="#ef5350" stroke-width="1.8"/>
<rect x="1660.8" y="871.3" width="9.8" height="26.1" fill="#ef5350"/>
<line x1="1678.8" y1="876.7" x2="1678.8" y2="905.5" stroke="#26a69a" stroke-width="1.8"/>
<rect x="1674.8" y="884.8" width="8.0" height="11.7" fill="#26a69a" stroke="#8f8d99" stroke-width="1.75"/>
<line x1="1692.0" y1="874.0" x2="1692.0" y2="893.9" stroke="#26a69a" stroke-width="1.8"/>
<rect x="1688.0" y="878.7" width="8.0" height="3.6" fill="#26a69a" stroke="#8f8d99" stroke-width="1.75"/>
<line x1="1705.1" y1="874.0" x2="1705.1" y2="946.6" stroke="#ef5350" stroke-width="1.8"/>
<rect x="1700.2" y="877.2" width="9.8" height="49.0" fill="#ef5350"/>
<line x1="1718.3" y1="922.4" x2="1718.3" y2="995.6" stroke="#ef5350" stroke-width="1.8"/>
<rect x="1713.4" y="926.2" width="9.8" height="37.1" fill="#ef5350"/>
<line x1="1731.4" y1="938.3" x2="1731.4" y2="966.5" stroke="#26a69a" stroke-width="1.8"/>
<rect x="1727.4" y="962.1" width="8.0" height="0.5" fill="#26a69a" stroke="#8f8d99" stroke-width="1.75"/>
<line x1="1744.6" y1="935.9" x2="1744.6" y2="971.4" stroke="#ef5350" stroke-width="1.8"/>
<rect x="1739.7" y="962.0" width="9.8" height="2.0" fill="#ef5350"/>
<line x1="1757.7" y1="957.9" x2="1757.7" y2="982.2" stroke="#ef5350" stroke-width="1.8"/>
<rect x="1752.8" y="963.9" width="9.8" height="5.4" fill="#ef5350"/>
<line x1="1770.9" y1="953.9" x2="1770.9" y2="974.6" stroke="#26a69a" stroke-width="1.8"/>
<rect x="1766.9" y="968.3" width="8.0" height="0.5" fill="#26a69a" stroke="#8f8d99" stroke-width="1.75"/>
<line x1="1784.0" y1="959.3" x2="1784.0" y2="982.2" stroke="#ef5350" stroke-width="1.8"/>
<rect x="1779.1" y="966.0" width="9.8" height="13.5" fill="#ef5350"/>
<line x1="1797.2" y1="975.4" x2="1797.2" y2="1014.4" stroke="#ef5350" stroke-width="1.8"/>
<rect x="1792.3" y="978.9" width="9.8" height="15.3" fill="#ef5350"/>
<line x1="1810.3" y1="958.5" x2="1810.3" y2="994.3" stroke="#26a69a" stroke-width="1.8"/>
<rect x="1806.3" y="974.4" width="8.0" height="18.1" fill="#26a69a" stroke="#8f8d99" stroke-width="1.75"/>
<line x1="1823.5" y1="962.8" x2="1823.5" y2="992.9" stroke="#ef5350" stroke-width="1.8"/>
<rect x="1818.6" y="972.7" width="9.8" height="18.8" fill="#ef5350"/>
<line x1="1836.6" y1="974.1" x2="1836.6" y2="998.3" stroke="#26a69a" stroke-width="1.8"/>
<rect x="1832.6" y="979.0" width="8.0" height="10.8" fill="#26a69a" stroke="#8f8d99" stroke-width="1.75"/>
<line x1="1849.8" y1="961.2" x2="1849.8" y2="1000.4" stroke="#ef5350" stroke-width="1.8"/>
<rect x="1844.9" y="978.1" width="9.8" height="17.0" fill="#ef5350"/>
<line x1="1862.9" y1="987.0" x2="1862.9" y2="998.8" stroke="#ef5350" stroke-width="1.8"/>
<rect x="1858.0" y="995.1" width="9.8" height="3.2" fill="#ef5350"/>
<line x1="1876.1" y1="982.2" x2="1876.1" y2="1005.0" stroke="#26a69a" stroke-width="1.8"/>
<rect x="1872.1" y="987.9" width="8.0" height="9.0" fill="#26a69a" stroke="#8f8d99" stroke-width="1.75"/>
<line x1="1889.2" y1="977.3" x2="1889.2" y2="996.1" stroke="#ef5350" stroke-width="1.8"/>
<rect x="1884.3" y="987.0" width="9.8" height="5.4" fill="#ef5350"/>
<line x1="1902.4" y1="983.0" x2="1902.4" y2="995.6" stroke="#26a69a" stroke-width="1.8"/>
<rect x="1898.4" y="990.6" width="8.0" height="0.9" fill="#26a69a" stroke="#8f8d99" stroke-width="1.75"/>
<line x1="1915.5" y1="982.2" x2="1915.5" y2="1020.4" stroke="#ef5350" stroke-width="1.8"/>
<rect x="1910.6" y="986.8" width="9.8" height="26.4" fill="#ef5350"/>
<line x1="1928.7" y1="1011.6" x2="1928.7" y2="1068.9" stroke="#ef5350" stroke-width="1.8"/>
<rect x="1923.8" y="1013.2" width="9.8" height="53.8" fill="#ef5350"/>
<line x1="1941.8" y1="1051.9" x2="1941.8" y2="1123.5" stroke="#26a69a" stroke-width="1.8"/>
<rect x="1937.8" y="1056.3" width="8.0" height="8.2" fill="#26a69a" stroke="#8f8d99" stroke-width="1.75"/>
<line x1="1955.0" y1="979.3" x2="1955.0" y2="1063.5" stroke="#26a69a" stroke-width="1.8"/>
<rect x="1951.0" y="984.2" width="8.0" height="69.5" fill="#26a69a" stroke="#8f8d99" stroke-width="1.75"/>
<line x1="1968.1" y1="982.8" x2="1968.1" y2="1042.8" stroke="#ef5350" stroke-width="1.8"/>
<rect x="1963.2" y="982.8" width="9.8" height="58.4" fill="#ef5350"/>
<line x1="1981.3" y1="991.7" x2="1981.3" y2="1062.2" stroke="#26a69a" stroke-width="1.8"/>
<rect x="1977.3" y="1020.5" width="8.0" height="18.6" fill="#26a69a" stroke="#8f8d99" stroke-width="1.75"/>
<line x1="1994.4" y1="1005.6" x2="1994.4" y2="1026.6" stroke="#26a69a" stroke-width="1.8"/>
<rect x="1990.4" y="1016.0" width="8.0" height="1.7" fill="#26a69a" stroke="#8f8d99" stroke-width="1.75"/>
<line x1="2007.6" y1="998.9" x2="2007.6" y2="1023.7" stroke="#26a69a" stroke-width="1.8"/>
<rect x="2003.6" y="1013.3" width="8.0" height="0.5" fill="#26a69a" stroke="#8f8d99" stroke-width="1.75"/>
<line x1="2020.7" y1="993.5" x2="2020.7" y2="1020.4" stroke="#ef5350" stroke-width="1.8"/>
<rect x="2015.8" y="1013.2" width="9.8" height="5.4" fill="#ef5350"/>
<line x1="2033.9" y1="1005.6" x2="2033.9" y2="1031.7" stroke="#26a69a" stroke-width="1.8"/>
<rect x="2029.9" y="1011.4" width="8.0" height="5.5" fill="#26a69a" stroke="#8f8d99" stroke-width="1.75"/>
<line x1="2047.0" y1="982.8" x2="2047.0" y2="1011.0" stroke="#26a69a" stroke-width="1.8"/>
<rect x="2043.0" y="993.6" width="8.0" height="16.0" fill="#26a69a" stroke="#8f8d99" stroke-width="1.75"/>
<line x1="2060.2" y1="972.0" x2="2060.2" y2="993.5" stroke="#26a69a" stroke-width="1.8"/>
<rect x="2056.2" y="977.5" width="8.0" height="13.8" fill="#26a69a" stroke="#8f8d99" stroke-width="1.75"/>
<line x1="2073.3" y1="923.6" x2="2073.3" y2="980.9" stroke="#26a69a" stroke-width="1.8"/>
<rect x="2069.3" y="929.9" width="8.0" height="45.3" fill="#26a69a" stroke="#8f8d99" stroke-width="1.75"/>
<line x1="2086.5" y1="900.7" x2="2086.5" y2="953.2" stroke="#26a69a" stroke-width="1.8"/>
<rect x="2082.5" y="928.0" width="8.0" height="0.5" fill="#26a69a" stroke="#8f8d99" stroke-width="1.75"/>
<line x1="2099.6" y1="910.1" x2="2099.6" y2="950.5" stroke="#ef5350" stroke-width="1.8"/>
<rect x="2094.7" y="926.3" width="9.8" height="21.5" fill="#ef5350"/>
<line x1="2112.8" y1="936.2" x2="2112.8" y2="1000.8" stroke="#ef5350" stroke-width="1.8"/>
<rect x="2107.9" y="947.0" width="9.8" height="36.3" fill="#ef5350"/>
<line x1="2125.9" y1="959.9" x2="2125.9" y2="998.1" stroke="#26a69a" stroke-width="1.8"/>
<rect x="2121.9" y="973.7" width="8.0" height="8.7" fill="#26a69a" stroke="#8f8d99" stroke-width="1.75"/>
<line x1="2139.1" y1="951.0" x2="2139.1" y2="980.9" stroke="#26a69a" stroke-width="1.8"/>
<rect x="2135.1" y="963.5" width="8.0" height="8.2" fill="#26a69a" stroke="#8f8d99" stroke-width="1.75"/>
<line x1="2152.2" y1="951.8" x2="2152.2" y2="994.9" stroke="#26a69a" stroke-width="1.8"/>
<rect x="2148.2" y="960.3" width="8.0" height="0.5" fill="#26a69a" stroke="#8f8d99" stroke-width="1.75"/>
<line x1="2165.4" y1="955.9" x2="2165.4" y2="982.8" stroke="#ef5350" stroke-width="1.8"/>
<rect x="2160.5" y="957.8" width="9.8" height="21.0" fill="#ef5350"/>
<line x1="2178.5" y1="971.2" x2="2178.5" y2="1004.3" stroke="#ef5350" stroke-width="1.8"/>
<rect x="2173.6" y="978.2" width="9.8" height="16.7" fill="#ef5350"/>
<line x1="2191.7" y1="978.7" x2="2191.7" y2="1006.2" stroke="#ef5350" stroke-width="1.8"/>
<rect x="2186.8" y="994.3" width="9.8" height="7.3" fill="#ef5350"/>
<line x1="2204.8" y1="999.0" x2="2204.8" y2="1030.5" stroke="#ef5350" stroke-width="1.8"/>
<rect x="2199.9" y="1000.9" width="9.8" height="12.6" fill="#ef5350"/>
<line x1="2218.0" y1="994.2" x2="2218.0" y2="1013.5" stroke="#26a69a" stroke-width="1.8"/>
<rect x="2214.0" y="997.2" width="8.0" height="14.9" fill="#26a69a" stroke="#8f8d99" stroke-width="1.75"/>
<line x1="2231.1" y1="976.1" x2="2231.1" y2="1003.6" stroke="#26a69a" stroke-width="1.8"/>
<rect x="2227.1" y="994.0" width="8.0" height="0.5" fill="#26a69a" stroke="#8f8d99" stroke-width="1.75"/>
<line x1="2244.3" y1="990.1" x2="2244.3" y2="1005.5" stroke="#ef5350" stroke-width="1.8"/>
<rect x="2239.4" y="994.7" width="9.8" height="7.0" fill="#ef5350"/>
<line x1="2257.4" y1="986.6" x2="2257.4" y2="1009.8" stroke="#ef5350" stroke-width="1.8"/>
<rect x="2252.5" y="1001.4" width="9.8" height="5.7" fill="#ef5350"/>
<line x1="2270.6" y1="1000.1" x2="2270.6" y2="1024.3" stroke="#ef5350" stroke-width="1.8"/>
<rect x="2265.7" y="1006.3" width="9.8" height="7.3" fill="#ef5350"/>
<line x1="2283.7" y1="1004.4" x2="2283.7" y2="1033.7" stroke="#ef5350" stroke-width="1.8"/>
<rect x="2278.8" y="1013.0" width="9.8" height="14.8" fill="#ef5350"/>
<line x1="2296.9" y1="1023.8" x2="2296.9" y2="1058.7" stroke="#ef5350" stroke-width="1.8"/>
<rect x="2292.0" y="1027.3" width="9.8" height="3.8" fill="#ef5350"/>
<line x1="2310.0" y1="1028.3" x2="2310.0" y2="1066.8" stroke="#ef5350" stroke-width="1.8"/>
<rect x="2305.1" y="1031.0" width="9.8" height="35.2" fill="#ef5350"/>
<line x1="2323.2" y1="1058.7" x2="2323.2" y2="1090.5" stroke="#ef5350" stroke-width="1.8"/>
<rect x="2318.3" y="1065.5" width="9.8" height="12.9" fill="#ef5350"/>
<line x1="2336.3" y1="1075.4" x2="2336.3" y2="1114.7" stroke="#ef5350" stroke-width="1.8"/>
<rect x="2331.4" y="1077.0" width="9.8" height="27.4" fill="#ef5350"/>
<line x1="2349.5" y1="1085.1" x2="2349.5" y2="1179.8" stroke="#ef5350" stroke-width="1.8"/>
<rect x="2344.6" y="1104.5" width="9.8" height="3.2" fill="#ef5350"/>
<line x1="2362.6" y1="1083.0" x2="2362.6" y2="1110.4" stroke="#26a69a" stroke-width="1.8"/>
<rect x="2358.6" y="1103.2" width="8.0" height="3.6" fill="#26a69a" stroke="#8f8d99" stroke-width="1.75"/>
<line x1="2375.8" y1="1085.6" x2="2375.8" y2="1122.8" stroke="#ef5350" stroke-width="1.8"/>
<rect x="2370.9" y="1101.3" width="9.8" height="17.2" fill="#ef5350"/>
<line x1="2388.9" y1="1072.2" x2="2388.9" y2="1124.7" stroke="#26a69a" stroke-width="1.8"/>
<rect x="2384.9" y="1077.1" width="8.0" height="38.6" fill="#26a69a" stroke="#8f8d99" stroke-width="1.75"/>
<line x1="2402.1" y1="1074.9" x2="2402.1" y2="1094.3" stroke="#ef5350" stroke-width="1.8"/>
<rect x="2397.2" y="1075.4" width="9.8" height="8.1" fill="#ef5350"/>
<line x1="2415.2" y1="1076.2" x2="2415.2" y2="1087.8" stroke="#26a69a" stroke-width="1.8"/>
<rect x="2411.2" y="1082.0" width="8.0" height="0.5" fill="#26a69a" stroke="#8f8d99" stroke-width="1.75"/>
<line x1="2428.4" y1="1064.1" x2="2428.4" y2="1105.8" stroke="#ef5350" stroke-width="1.8"/>
<rect x="2423.5" y="1081.6" width="9.8" height="22.1" fill="#ef5350"/>
<line x1="2441.5" y1="1081.1" x2="2441.5" y2="1105.8" stroke="#26a69a" stroke-width="1.8"/>
<rect x="2437.5" y="1088.7" width="8.0" height="12.2" fill="#26a69a" stroke="#8f8d99" stroke-width="1.75"/>
<line x1="2454.7" y1="1082.2" x2="2454.7" y2="1099.6" stroke="#ef5350" stroke-width="1.8"/>
<rect x="2449.8" y="1085.6" width="9.8" height="2.0" fill="#ef5350"/>
<line x1="2467.8" y1="1083.5" x2="2467.8" y2="1101.8" stroke="#ef5350" stroke-width="1.8"/>
<rect x="2462.9" y="1088.3" width="9.8" height="8.1" fill="#ef5350"/>
<line x1="2481.0" y1="1092.4" x2="2481.0" y2="1110.4" stroke="#ef5350" stroke-width="1.8"/>
<rect x="2476.1" y="1096.4" width="9.8" height="10.2" fill="#ef5350"/>
<line x1="2494.1" y1="1100.4" x2="2494.1" y2="1116.6" stroke="#ef5350" stroke-width="1.8"/>
<rect x="2489.2" y="1105.3" width="9.8" height="2.0" fill="#ef5350"/>
<line x1="2507.3" y1="1101.3" x2="2507.3" y2="1109.3" stroke="#26a69a" stroke-width="1.8"/>
<rect x="2503.3" y="1105.9" width="8.0" height="0.9" fill="#26a69a" stroke="#8f8d99" stroke-width="1.75"/>
<line x1="2520.4" y1="1096.4" x2="2520.4" y2="1107.7" stroke="#ef5350" stroke-width="1.8"/>
<rect x="2515.5" y="1103.9" width="9.8" height="3.2" fill="#ef5350"/>
<line x1="2533.6" y1="1098.6" x2="2533.6" y2="1114.7" stroke="#26a69a" stroke-width="1.8"/>
<rect x="2529.6" y="1106.5" width="8.0" height="0.5" fill="#26a69a" stroke="#8f8d99" stroke-width="1.75"/>
<line x1="2546.7" y1="1086.2" x2="2546.7" y2="1105.0" stroke="#26a69a" stroke-width="1.8"/>
<rect x="2542.7" y="1096.8" width="8.0" height="6.3" fill="#26a69a" stroke="#8f8d99" stroke-width="1.75"/>
<line x1="2559.9" y1="1078.1" x2="2559.9" y2="1099.6" stroke="#26a69a" stroke-width="1.8"/>
<rect x="2555.9" y="1082.5" width="8.0" height="11.7" fill="#26a69a" stroke="#8f8d99" stroke-width="1.75"/>
<line x1="2573.0" y1="1073.0" x2="2573.0" y2="1088.3" stroke="#ef5350" stroke-width="1.8"/>
<rect x="2568.1" y="1079.7" width="9.8" height="3.2" fill="#ef5350"/>
<line x1="2586.2" y1="1039.4" x2="2586.2" y2="1084.3" stroke="#26a69a" stroke-width="1.8"/>
<rect x="2582.2" y="1047.5" width="8.0" height="34.5" fill="#26a69a" stroke="#8f8d99" stroke-width="1.75"/>
<line x1="2599.3" y1="1021.1" x2="2599.3" y2="1052.0" stroke="#26a69a" stroke-width="1.8"/>
<rect x="2595.3" y="1037.6" width="8.0" height="7.6" fill="#26a69a" stroke="#8f8d99" stroke-width="1.75"/>
<line x1="2612.5" y1="1035.1" x2="2612.5" y2="1063.6" stroke="#ef5350" stroke-width="1.8"/>
<rect x="2607.6" y="1035.9" width="9.8" height="16.1" fill="#ef5350"/>
<line x1="2625.6" y1="1047.4" x2="2625.6" y2="1072.2" stroke="#ef5350" stroke-width="1.8"/>
<rect x="2620.7" y="1051.2" width="9.8" height="16.1" fill="#ef5350"/>
<line x1="2638.8" y1="1059.3" x2="2638.8" y2="1102.3" stroke="#ef5350" stroke-width="1.8"/>
<rect x="2633.9" y="1066.3" width="9.8" height="26.1" fill="#ef5350"/>
<line x1="2651.9" y1="1078.1" x2="2651.9" y2="1101.3" stroke="#26a69a" stroke-width="1.8"/>
<rect x="2647.9" y="1090.6" width="8.0" height="0.5" fill="#26a69a" stroke="#8f8d99" stroke-width="1.75"/>
<line x1="2665.1" y1="1068.2" x2="2665.1" y2="1089.7" stroke="#26a69a" stroke-width="1.8"/>
<rect x="2661.1" y="1083.3" width="8.0" height="4.7" fill="#26a69a" stroke="#8f8d99" stroke-width="1.75"/>
<line x1="2678.2" y1="1077.6" x2="2678.2" y2="1095.9" stroke="#ef5350" stroke-width="1.8"/>
<rect x="2673.3" y="1081.9" width="9.8" height="2.2" fill="#ef5350"/>
<line x1="2691.4" y1="1081.1" x2="2691.4" y2="1091.6" stroke="#ef5350" stroke-width="1.8"/>
<rect x="2686.5" y="1084.3" width="9.8" height="5.4" fill="#ef5350"/>
<line x1="2704.5" y1="1088.3" x2="2704.5" y2="1113.1" stroke="#ef5350" stroke-width="1.8"/>
<rect x="2699.6" y="1088.9" width="9.8" height="20.4" fill="#ef5350"/>
<line x1="2717.7" y1="1092.4" x2="2717.7" y2="1110.4" stroke="#26a69a" stroke-width="1.8"/>
<rect x="2713.7" y="1096.8" width="8.0" height="12.2" fill="#26a69a" stroke="#8f8d99" stroke-width="1.75"/>
<line x1="2730.8" y1="1089.7" x2="2730.8" y2="1112.6" stroke="#ef5350" stroke-width="1.8"/>
<rect x="2725.9" y="1095.1" width="9.8" height="17.0" fill="#ef5350"/>
<line x1="2744.0" y1="1093.7" x2="2744.0" y2="1130.8" stroke="#26a69a" stroke-width="1.8"/>
<rect x="2740.0" y="1098.7" width="8.0" height="11.7" fill="#26a69a" stroke="#8f8d99" stroke-width="1.75"/>
<line x1="2757.1" y1="1095.1" x2="2757.1" y2="1112.6" stroke="#ef5350" stroke-width="1.8"/>
<rect x="2752.2" y="1095.9" width="9.8" height="13.5" fill="#ef5350"/>
<line x1="2770.3" y1="1100.4" x2="2770.3" y2="1134.6" stroke="#ef5350" stroke-width="1.8"/>
<rect x="2765.4" y="1107.7" width="9.8" height="12.9" fill="#ef5350"/>
<line x1="2783.4" y1="1113.2" x2="2783.4" y2="1122.6" stroke="#26a69a" stroke-width="1.8"/>
<rect x="2779.4" y="1119.8" width="8.0" height="0.5" fill="#26a69a" stroke="#8f8d99" stroke-width="1.75"/>
<line x1="2796.6" y1="1109.2" x2="2796.6" y2="1119.9" stroke="#26a69a" stroke-width="1.8"/>
<rect x="2792.6" y="1114.1" width="8.0" height="2.8" fill="#26a69a" stroke="#8f8d99" stroke-width="1.75"/>
<line x1="2809.7" y1="1092.5" x2="2809.7" y2="1114.5" stroke="#26a69a" stroke-width="1.8"/>
<rect x="2805.7" y="1099.3" width="8.0" height="11.1" fill="#26a69a" stroke="#8f8d99" stroke-width="1.75"/>
<line x1="2822.9" y1="1093.8" x2="2822.9" y2="1104.3" stroke="#ef5350" stroke-width="1.8"/>
<rect x="2818.0" y="1095.7" width="9.8" height="2.2" fill="#ef5350"/>
<line x1="2836.0" y1="1097.1" x2="2836.0" y2="1115.9" stroke="#ef5350" stroke-width="1.8"/>
<rect x="2831.1" y="1097.1" width="9.8" height="9.4" fill="#ef5350"/>
<line x1="2849.2" y1="1097.9" x2="2849.2" y2="1108.6" stroke="#26a69a" stroke-width="1.8"/>
<rect x="2845.2" y="1100.6" width="8.0" height="4.4" fill="#26a69a" stroke="#8f8d99" stroke-width="1.75"/>
<line x1="2862.3" y1="1080.9" x2="2862.3" y2="1102.4" stroke="#26a69a" stroke-width="1.8"/>
<rect x="2858.3" y="1087.2" width="8.0" height="10.9" fill="#26a69a" stroke="#8f8d99" stroke-width="1.75"/>
<line x1="2875.5" y1="1082.8" x2="2875.5" y2="1094.4" stroke="#ef5350" stroke-width="1.8"/>
<rect x="2870.6" y="1086.3" width="9.8" height="6.2" fill="#ef5350"/>
<line x1="2888.6" y1="1088.2" x2="2888.6" y2="1105.9" stroke="#ef5350" stroke-width="1.8"/>
<rect x="2883.7" y="1091.7" width="9.8" height="12.1" fill="#ef5350"/>
<line x1="2901.8" y1="1100.6" x2="2901.8" y2="1114.0" stroke="#ef5350" stroke-width="1.8"/>
<rect x="2896.9" y="1103.2" width="9.8" height="5.9" fill="#ef5350"/>
<line x1="2914.9" y1="1097.1" x2="2914.9" y2="1112.4" stroke="#26a69a" stroke-width="1.8"/>
<rect x="2910.9" y="1107.4" width="8.0" height="0.5" fill="#26a69a" stroke="#8f8d99" stroke-width="1.75"/>
<line x1="2928.0" y1="1093.0" x2="2928.0" y2="1114.5" stroke="#26a69a" stroke-width="1.8"/>
<rect x="2924.0" y="1095.3" width="8.0" height="9.0" fill="#26a69a" stroke="#8f8d99" stroke-width="1.75"/>
<line x1="2941.2" y1="1067.4" x2="2941.2" y2="1093.6" stroke="#26a69a" stroke-width="1.8"/>
<rect x="2937.2" y="1083.1" width="8.0" height="9.0" fill="#26a69a" stroke="#8f8d99" stroke-width="1.75"/>
<line x1="2954.3" y1="1069.3" x2="2954.3" y2="1087.6" stroke="#26a69a" stroke-width="1.8"/>
<rect x="2950.3" y="1075.1" width="8.0" height="4.9" fill="#26a69a" stroke="#8f8d99" stroke-width="1.75"/>
<line x1="2967.5" y1="1053.2" x2="2967.5" y2="1080.9" stroke="#26a69a" stroke-width="1.8"/>
<rect x="2963.5" y="1056.2" width="8.0" height="15.7" fill="#26a69a" stroke="#8f8d99" stroke-width="1.75"/>
<line x1="2980.6" y1="1052.1" x2="2980.6" y2="1079.6" stroke="#ef5350" stroke-width="1.8"/>
<rect x="2975.7" y="1055.3" width="9.8" height="14.3" fill="#ef5350"/>
<line x1="2993.8" y1="1059.4" x2="2993.8" y2="1077.4" stroke="#ef5350" stroke-width="1.8"/>
<rect x="2988.9" y="1068.3" width="9.8" height="2.0" fill="#ef5350"/>
<line x1="3006.9" y1="1056.7" x2="3006.9" y2="1075.5" stroke="#26a69a" stroke-width="1.8"/>
<rect x="3002.9" y="1061.6" width="8.0" height="7.6" fill="#26a69a" stroke="#8f8d99" stroke-width="1.75"/>
<line x1="3020.1" y1="1031.6" x2="3020.1" y2="1062.1" stroke="#26a69a" stroke-width="1.8"/>
<rect x="3016.1" y="1048.2" width="8.0" height="11.7" fill="#26a69a" stroke="#8f8d99" stroke-width="1.75"/>
<line x1="3033.2" y1="925.6" x2="3033.2" y2="1057.5" stroke="#26a69a" stroke-width="1.8"/>
<rect x="3029.2" y="948.6" width="8.0" height="97.8" fill="#26a69a" stroke="#8f8d99" stroke-width="1.75"/>
<line x1="3046.4" y1="854.8" x2="3046.4" y2="948.2" stroke="#26a69a" stroke-width="1.8"/>
<rect x="3042.4" y="899.6" width="8.0" height="47.2" fill="#26a69a" stroke="#8f8d99" stroke-width="1.75"/>
<line x1="3059.5" y1="862.1" x2="3059.5" y2="936.9" stroke="#ef5350" stroke-width="1.8"/>
<rect x="3054.6" y="897.9" width="9.8" height="19.6" fill="#ef5350"/>
<line x1="3072.7" y1="893.8" x2="3072.7" y2="932.9" stroke="#ef5350" stroke-width="1.8"/>
<rect x="3067.8" y="916.7" width="9.8" height="8.9" fill="#ef5350"/>
<line x1="3085.8" y1="924.8" x2="3085.8" y2="981.3" stroke="#ef5350" stroke-width="1.8"/>
<rect x="3080.9" y="924.8" width="9.8" height="53.8" fill="#ef5350"/>
<line x1="3099.0" y1="946.3" x2="3099.0" y2="977.8" stroke="#26a69a" stroke-width="1.8"/>
<rect x="3095.0" y="956.1" width="8.0" height="20.8" fill="#26a69a" stroke="#8f8d99" stroke-width="1.75"/>
</g>
<line x1="25" y1="953.9" x2="3278" y2="953.9" stroke="#26a69a" stroke-width="2" stroke-dasharray="2 4"/>
<rect x="25.2" y="1389.0" width="3388.5" height="100.9" fill="#7e57c2" fill-opacity="0.1"/>
<line x1="25.2" y1="1389.0" x2="3413.7" y2="1389.0" stroke="#787b86" stroke-width="2" stroke-dasharray="10 12"/>
<line x1="25.2" y1="1439.4" x2="3413.7" y2="1439.4" stroke="#b2b5be" stroke-width="2" stroke-dasharray="10 12"/>
<line x1="25.2" y1="1489.9" x2="3413.7" y2="1489.9" stroke="#787b86" stroke-width="2" stroke-dasharray="10 12"/>
<g clip-path="url(#cr)">
<polygon points="22.0,1389.0 22.0,1389.0 35.2,1389.0 48.3,1389.0 61.5,1389.0 74.6,1389.0 87.8,1389.0 100.9,1389.0 114.1,1389.0 127.2,1389.0 140.4,1389.0 153.5,1389.0 166.7,1389.0 179.8,1389.0 193.0,1389.0 206.1,1389.0 219.3,1389.0 232.4,1389.0 245.6,1377.4 258.7,1361.7 271.9,1351.3 285.0,1330.6 298.1,1323.1 311.3,1323.1 324.4,1317.8 337.6,1325.9 350.7,1344.7 363.9,1361.0 377.0,1354.2 390.2,1356.2 403.3,1374.0 416.5,1371.4 429.6,1385.2 442.8,1386.5 455.9,1385.8 469.1,1389.0 482.2,1389.0 495.4,1389.0 508.5,1389.0 521.7,1389.0 534.8,1389.0 548.0,1389.0 561.1,1389.0 574.3,1389.0 587.4,1389.0 600.6,1389.0 613.7,1389.0 626.9,1389.0 640.0,1389.0 653.2,1389.0 666.3,1389.0 679.5,1389.0 692.6,1389.0 705.8,1389.0 718.9,1389.0 732.1,1389.0 745.2,1389.0 758.4,1389.0 771.5,1389.0 784.7,1389.0 797.8,1389.0 811.0,1389.0 824.1,1389.0 837.3,1389.0 850.4,1389.0 863.6,1389.0 876.7,1389.0 889.9,1389.0 903.0,1389.0 916.2,1389.0 929.3,1389.0 942.5,1389.0 955.6,1389.0 968.8,1389.0 981.9,1389.0 995.1,1389.0 1008.2,1389.0 1021.4,1389.0 1034.5,1389.0 1047.7,1389.0 1060.8,1389.0 1074.0,1389.0 1087.1,1389.0 1100.3,1389.0 1113.4,1389.0 1126.6,1389.0 1139.7,1389.0 1152.9,1389.0 1166.0,1389.0 1179.2,1389.0 1192.3,1389.0 1205.5,1389.0 1218.6,1389.0 1231.8,1389.0 1244.9,1389.0 1258.1,1389.0 1271.2,1389.0 1284.4,1389.0 1297.5,1389.0 1310.7,1389.0 1323.8,1389.0 1337.0,1389.0 1350.1,1389.0 1363.3,1389.0 1376.4,1389.0 1389.6,1389.0 1402.7,1389.0 1415.9,1389.0 1429.0,1389.0 1442.2,1389.0 1455.3,1389.0 1468.5,1389.0 1481.6,1389.0 1494.8,1389.0 1507.9,1389.0 1521.1,1389.0 1534.2,1389.0 1547.4,1389.0 1560.5,1389.0 1573.7,1389.0 1586.8,1389.0 1600.0,1389.0 1613.1,1389.0 1626.2,1389.0 1639.4,1389.0 1652.5,1389.0 1665.7,1389.0 1678.8,1389.0 1692.0,1389.0 1705.1,1389.0 1718.3,1389.0 1731.4,1389.0 1744.6,1389.0 1757.7,1389.0 1770.9,1389.0 1784.0,1389.0 1797.2,1389.0 1810.3,1389.0 1823.5,1389.0 1836.6,1389.0 1849.8,1389.0 1862.9,1389.0 1876.1,1389.0 1889.2,1389.0 1902.4,1389.0 1915.5,1389.0 1928.7,1389.0 1941.8,1389.0 1955.0,1389.0 1968.1,1389.0 1981.3,1389.0 1994.4,1389.0 2007.6,1389.0 2020.7,1389.0 2033.9,1389.0 2047.0,1389.0 2060.2,1389.0 2073.3,1389.0 2086.5,1389.0 2099.6,1389.0 2112.8,1389.0 2125.9,1389.0 2139.1,1389.0 2152.2,1389.0 2165.4,1389.0 2178.5,1389.0 2191.7,1389.0 2204.8,1389.0 2218.0,1389.0 2231.1,1389.0 2244.3,1389.0 2257.4,1389.0 2270.6,1389.0 2283.7,1389.0 2296.9,1389.0 2310.0,1389.0 2323.2,1389.0 2336.3,1389.0 2349.5,1389.0 2362.6,1389.0 2375.8,1389.0 2388.9,1389.0 2402.1,1389.0 2415.2,1389.0 2428.4,1389.0 2441.5,1389.0 2454.7,1389.0 2467.8,1389.0 2481.0,1389.0 2494.1,1389.0 2507.3,1389.0 2520.4,1389.0 2533.6,1389.0 2546.7,1389.0 2559.9,1389.0 2573.0,1389.0 2586.2,1389.0 2599.3,1389.0 2612.5,1389.0 2625.6,1389.0 2638.8,1389.0 2651.9,1389.0 2665.1,1389.0 2678.2,1389.0 2691.4,1389.0 2704.5,1389.0 2717.7,1389.0 2730.8,1389.0 2744.0,1389.0 2757.1,1389.0 2770.3,1389.0 2783.4,1389.0 2796.6,1389.0 2809.7,1389.0 2822.9,1389.0 2836.0,1389.0 2849.2,1389.0 2862.3,1389.0 2875.5,1389.0 2888.6,1389.0 2901.8,1389.0 2914.9,1389.0 2928.0,1389.0 2941.2,1389.0 2954.3,1389.0 2967.5,1389.0 2980.6,1389.0 2993.8,1389.0 3006.9,1389.0 3020.1,1389.0 3033.2,1365.1 3046.4,1355.4 3059.5,1370.5 3072.7,1376.8 3085.8,1389.0 3099.0,1389.0 3099.0,1389.0" fill="url(#gob)" fill-opacity="0.9"/>
<polygon points="22.0,1489.9 22.0,1489.9 35.2,1489.9 48.3,1489.9 61.5,1489.9 74.6,1489.9 87.8,1489.9 100.9,1489.9 114.1,1489.9 127.2,1489.9 140.4,1489.9 153.5,1489.9 166.7,1489.9 179.8,1489.9 193.0,1489.9 206.1,1489.9 219.3,1489.9 232.4,1489.9 245.6,1489.9 258.7,1489.9 271.9,1489.9 285.0,1489.9 298.1,1489.9 311.3,1489.9 324.4,1489.9 337.6,1489.9 350.7,1489.9 363.9,1489.9 377.0,1489.9 390.2,1489.9 403.3,1489.9 416.5,1489.9 429.6,1489.9 442.8,1489.9 455.9,1489.9 469.1,1489.9 482.2,1489.9 495.4,1489.9 508.5,1489.9 521.7,1489.9 534.8,1489.9 548.0,1489.9 561.1,1489.9 574.3,1489.9 587.4,1489.9 600.6,1489.9 613.7,1489.9 626.9,1489.9 640.0,1489.9 653.2,1489.9 666.3,1489.9 679.5,1489.9 692.6,1489.9 705.8,1489.9 718.9,1489.9 732.1,1489.9 745.2,1489.9 758.4,1489.9 771.5,1489.9 784.7,1489.9 797.8,1489.9 811.0,1489.9 824.1,1489.9 837.3,1489.9 850.4,1489.9 863.6,1489.9 876.7,1489.9 889.9,1489.9 903.0,1489.9 916.2,1489.9 929.3,1489.9 942.5,1489.9 955.6,1489.9 968.8,1489.9 981.9,1489.9 995.1,1489.9 1008.2,1489.9 1021.4,1489.9 1034.5,1489.9 1047.7,1489.9 1060.8,1489.9 1074.0,1489.9 1087.1,1489.9 1100.3,1489.9 1113.4,1489.9 1126.6,1489.9 1139.7,1489.9 1152.9,1489.9 1166.0,1489.9 1179.2,1489.9 1192.3,1489.9 1205.5,1489.9 1218.6,1489.9 1231.8,1489.9 1244.9,1489.9 1258.1,1489.9 1271.2,1489.9 1284.4,1489.9 1297.5,1489.9 1310.7,1489.9 1323.8,1489.9 1337.0,1489.9 1350.1,1489.9 1363.3,1489.9 1376.4,1489.9 1389.6,1489.9 1402.7,1489.9 1415.9,1489.9 1429.0,1489.9 1442.2,1489.9 1455.3,1489.9 1468.5,1489.9 1481.6,1489.9 1494.8,1489.9 1507.9,1489.9 1521.1,1489.9 1534.2,1489.9 1547.4,1489.9 1560.5,1489.9 1573.7,1489.9 1586.8,1489.9 1600.0,1489.9 1613.1,1489.9 1626.2,1489.9 1639.4,1489.9 1652.5,1489.9 1665.7,1489.9 1678.8,1489.9 1692.0,1489.9 1705.1,1489.9 1718.3,1494.3 1731.4,1493.1 1744.6,1493.7 1757.7,1495.1 1770.9,1493.8 1784.0,1497.2 1797.2,1501.2 1810.3,1489.9 1823.5,1491.6 1836.6,1489.9 1849.8,1489.9 1862.9,1489.9 1876.1,1489.9 1889.2,1489.9 1902.4,1489.9 1915.5,1489.9 1928.7,1505.6 1941.8,1496.6 1955.0,1489.9 1968.1,1489.9 1981.3,1489.9 1994.4,1489.9 2007.6,1489.9 2020.7,1489.9 2033.9,1489.9 2047.0,1489.9 2060.2,1489.9 2073.3,1489.9 2086.5,1489.9 2099.6,1489.9 2112.8,1489.9 2125.9,1489.9 2139.1,1489.9 2152.2,1489.9 2165.4,1489.9 2178.5,1489.9 2191.7,1489.9 2204.8,1489.9 2218.0,1489.9 2231.1,1489.9 2244.3,1489.9 2257.4,1489.9 2270.6,1489.9 2283.7,1489.9 2296.9,1489.9 2310.0,1489.9 2323.2,1489.9 2336.3,1498.7 2349.5,1499.7 2362.6,1494.6 2375.8,1500.4 2388.9,1489.9 2402.1,1489.9 2415.2,1489.9 2428.4,1489.9 2441.5,1489.9 2454.7,1489.9 2467.8,1489.9 2481.0,1489.9 2494.1,1489.9 2507.3,1489.9 2520.4,1489.9 2533.6,1489.9 2546.7,1489.9 2559.9,1489.9 2573.0,1489.9 2586.2,1489.9 2599.3,1489.9 2612.5,1489.9 2625.6,1489.9 2638.8,1489.9 2651.9,1489.9 2665.1,1489.9 2678.2,1489.9 2691.4,1489.9 2704.5,1489.9 2717.7,1489.9 2730.8,1489.9 2744.0,1489.9 2757.1,1489.9 2770.3,1489.9 2783.4,1489.9 2796.6,1489.9 2809.7,1489.9 2822.9,1489.9 2836.0,1489.9 2849.2,1489.9 2862.3,1489.9 2875.5,1489.9 2888.6,1489.9 2901.8,1489.9 2914.9,1489.9 2928.0,1489.9 2941.2,1489.9 2954.3,1489.9 2967.5,1489.9 2980.6,1489.9 2993.8,1489.9 3006.9,1489.9 3020.1,1489.9 3033.2,1489.9 3046.4,1489.9 3059.5,1489.9 3072.7,1489.9 3085.8,1489.9 3099.0,1489.9 3099.0,1489.9" fill="url(#gos)" fill-opacity="0.3"/>
<polyline points="22.0,1450.3 35.2,1447.5 48.3,1444.2 61.5,1441.8 74.6,1438.5 87.8,1434.9 100.9,1431.4 114.1,1429.7 127.2,1427.7 140.4,1425.1 153.5,1423.7 166.7,1423.4 179.8,1423.2 193.0,1423.2 206.1,1423.4 219.3,1423.3 232.4,1422.5 245.6,1418.8 258.7,1415.2 271.9,1411.2 285.0,1405.8 298.1,1398.3 311.3,1391.3 324.4,1384.6 337.6,1377.6 350.7,1371.0 363.9,1365.6 377.0,1359.7 390.2,1354.3 403.3,1350.6 416.5,1348.0 429.6,1348.6 442.8,1350.3 455.9,1352.8 469.1,1358.1 482.2,1366.1 495.4,1372.7 508.5,1380.7 521.7,1388.8 534.8,1394.7 548.0,1399.7 561.1,1405.3 574.3,1410.6 587.4,1414.4 600.6,1418.0 613.7,1420.1 626.9,1422.2 640.0,1423.8 653.2,1424.7 666.3,1424.0 679.5,1424.2 692.6,1424.4 705.8,1424.9 718.9,1426.4 732.1,1427.0 745.2,1427.7 758.4,1428.4 771.5,1429.0 784.7,1429.6 797.8,1431.5 811.0,1432.8 824.1,1435.1 837.3,1438.2 850.4,1442.1 863.6,1445.4 876.7,1448.0 889.9,1449.2 903.0,1450.6 916.2,1452.2 929.3,1453.4 942.5,1453.0 955.6,1452.9 968.8,1452.7 981.9,1452.0 995.1,1452.2 1008.2,1452.1 1021.4,1450.9 1034.5,1448.7 1047.7,1447.7 1060.8,1446.6 1074.0,1447.0 1087.1,1446.8 1100.3,1447.0 1113.4,1445.8 1126.6,1446.0 1139.7,1446.6 1152.9,1448.0 1166.0,1450.1 1179.2,1451.7 1192.3,1452.6 1205.5,1453.8 1218.6,1454.7 1231.8,1455.3 1244.9,1454.9 1258.1,1453.6 1271.2,1450.8 1284.4,1448.6 1297.5,1447.5 1310.7,1447.1 1323.8,1447.3 1337.0,1445.1 1350.1,1442.3 1363.3,1439.9 1376.4,1439.0 1389.6,1437.6 1402.7,1435.6 1415.9,1434.2 1429.0,1432.8 1442.2,1430.2 1455.3,1429.1 1468.5,1428.8 1481.6,1429.3 1494.8,1429.7 1507.9,1429.8 1521.1,1431.8 1534.2,1433.6 1547.4,1433.5 1560.5,1433.4 1573.7,1434.4 1586.8,1436.3 1600.0,1437.3 1613.1,1439.7 1626.2,1443.9 1639.4,1448.0 1652.5,1451.2 1665.7,1454.6 1678.8,1457.3 1692.0,1459.3 1705.1,1462.0 1718.3,1465.6 1731.4,1470.3 1744.6,1474.3 1757.7,1477.2 1770.9,1479.7 1784.0,1482.7 1797.2,1485.5 1810.3,1486.4 1823.5,1488.2 1836.6,1488.7 1849.8,1489.1 1862.9,1490.1 1876.1,1490.7 1889.2,1490.5 1902.4,1489.5 1915.5,1489.2 1928.7,1490.0 1941.8,1490.1 1955.0,1487.2 1968.1,1485.4 1981.3,1482.6 1994.4,1480.7 2007.6,1478.4 2020.7,1476.8 2033.9,1474.6 2047.0,1471.6 2060.2,1468.6 2073.3,1464.1 2086.5,1459.6 2099.6,1455.3 2112.8,1451.0 2125.9,1447.0 2139.1,1445.7 2152.2,1443.0 2165.4,1441.8 2178.5,1441.2 2191.7,1441.0 2204.8,1440.9 2218.0,1440.5 2231.1,1440.6 2244.3,1441.6 2257.4,1444.2 2270.6,1447.2 2283.7,1449.9 2296.9,1451.5 2310.0,1454.7 2323.2,1458.6 2336.3,1463.2 2349.5,1467.1 2362.6,1470.2 2375.8,1473.5 2388.9,1473.8 2402.1,1475.2 2415.2,1476.5 2428.4,1478.3 2441.5,1479.0 2454.7,1479.4 2467.8,1479.6 2481.0,1480.1 2494.1,1479.3 2507.3,1478.2 2520.4,1476.4 2533.6,1474.5 2546.7,1472.2 2559.9,1468.4 2573.0,1467.3 2586.2,1463.7 2599.3,1459.9 2612.5,1456.2 2625.6,1454.4 2638.8,1453.8 2651.9,1452.7 2665.1,1450.8 2678.2,1449.0 2691.4,1447.6 2704.5,1447.1 2717.7,1445.8 2730.8,1446.0 2744.0,1446.3 2757.1,1447.1 2770.3,1450.6 2783.4,1454.3 2796.6,1456.7 2809.7,1457.2 2822.9,1456.4 2836.0,1456.3 2849.2,1456.2 2862.3,1455.0 2875.5,1454.0 2888.6,1452.8 2901.8,1452.7 2914.9,1451.7 2928.0,1450.7 2941.2,1448.4 2954.3,1445.0 2967.5,1440.8 2980.6,1438.1 2993.8,1436.3 3006.9,1434.1 3020.1,1430.7 3033.2,1424.9 3046.4,1419.3 3059.5,1414.4 3072.7,1409.2 3085.8,1406.2 3099.0,1402.8" fill="none" stroke="#fbe33a" stroke-width="2.6" stroke-linejoin="round"/>
<polyline points="22.0,1428.0 35.2,1428.0 48.3,1418.5 61.5,1428.4 74.6,1412.9 87.8,1407.4 100.9,1405.2 114.1,1428.6 127.2,1420.4 140.4,1411.9 153.5,1424.7 166.7,1437.2 179.8,1436.8 193.0,1436.5 206.1,1431.0 219.3,1426.6 232.4,1407.1 245.6,1377.4 258.7,1361.7 271.9,1351.3 285.0,1330.6 298.1,1323.1 311.3,1323.1 324.4,1317.8 337.6,1325.9 350.7,1344.7 363.9,1361.0 377.0,1354.2 390.2,1356.2 403.3,1374.0 416.5,1371.4 429.6,1385.2 442.8,1386.5 455.9,1385.8 469.1,1404.9 482.2,1434.3 495.4,1415.7 508.5,1430.3 521.7,1439.8 534.8,1427.2 548.0,1429.9 561.1,1433.5 574.3,1430.6 587.4,1426.0 600.6,1422.8 613.7,1413.6 626.9,1416.9 640.0,1408.2 653.2,1417.2 666.3,1423.8 679.5,1419.0 692.6,1433.5 705.8,1446.8 718.9,1447.1 732.1,1438.4 745.2,1444.2 758.4,1439.8 771.5,1434.6 784.7,1430.8 797.8,1440.2 811.0,1436.0 824.1,1440.3 837.3,1459.7 850.4,1478.8 863.6,1465.8 876.7,1469.8 889.9,1463.5 903.0,1467.1 916.2,1460.7 929.3,1460.0 942.5,1434.1 955.6,1433.5 968.8,1429.1 981.9,1429.5 995.1,1439.1 1008.2,1438.8 1021.4,1443.4 1034.5,1447.4 1047.7,1452.5 1060.8,1453.8 1074.0,1468.4 1087.1,1465.3 1100.3,1463.2 1113.4,1443.5 1126.6,1436.8 1139.7,1441.0 1152.9,1449.4 1166.0,1458.3 1179.2,1462.3 1192.3,1450.3 1205.5,1460.7 1218.6,1459.8 1231.8,1461.4 1244.9,1447.3 1258.1,1451.5 1271.2,1424.9 1284.4,1433.1 1297.5,1428.3 1310.7,1431.5 1323.8,1442.7 1337.0,1419.3 1350.1,1418.8 1363.3,1429.2 1376.4,1438.1 1389.6,1440.4 1402.7,1432.5 1415.9,1441.5 1429.0,1427.6 1442.2,1415.6 1455.3,1408.4 1468.5,1430.0 1481.6,1434.8 1494.8,1436.9 1507.9,1444.3 1521.1,1446.5 1534.2,1444.3 1547.4,1427.6 1560.5,1436.9 1573.7,1454.5 1586.8,1459.3 1600.0,1455.5 1613.1,1461.6 1626.2,1474.0 1639.4,1465.5 1652.5,1475.1 1665.7,1482.2 1678.8,1475.0 1692.0,1471.6 1705.1,1485.6 1718.3,1494.3 1731.4,1493.1 1744.6,1493.7 1757.7,1495.1 1770.9,1493.8 1784.0,1497.2 1797.2,1501.2 1810.3,1486.0 1823.5,1491.6 1836.6,1482.0 1849.8,1487.7 1862.9,1488.8 1876.1,1480.1 1889.2,1482.2 1902.4,1480.0 1915.5,1489.4 1928.7,1505.6 1941.8,1496.6 1955.0,1452.7 1968.1,1472.0 1981.3,1461.8 1994.4,1459.7 2007.6,1458.4 2020.7,1460.7 2033.9,1456.3 2047.0,1446.8 2060.2,1438.6 2073.3,1418.3 2086.5,1417.6 2099.6,1428.7 2112.8,1445.4 2125.9,1440.5 2139.1,1435.7 2152.2,1434.1 2165.4,1444.1 2178.5,1451.8 2191.7,1454.9 2204.8,1460.5 2218.0,1449.8 2231.1,1447.9 2244.3,1452.5 2257.4,1455.5 2270.6,1459.1 2283.7,1466.8 2296.9,1468.5 2310.0,1484.8 2323.2,1489.6 2336.3,1498.7 2349.5,1499.7 2362.6,1494.6 2375.8,1500.4 2388.9,1465.5 2402.1,1468.8 2415.2,1467.0 2428.4,1477.5 2441.5,1465.2 2454.7,1464.8 2467.8,1469.6 2481.0,1474.8 2494.1,1474.8 2507.3,1473.2 2520.4,1474.5 2533.6,1472.7 2546.7,1462.1 2559.9,1447.8 2573.0,1449.0 2586.2,1419.3 2599.3,1412.9 2612.5,1426.8 2625.6,1439.3 2638.8,1456.4 2651.9,1454.2 2665.1,1448.1 2678.2,1449.3 2691.4,1453.7 2704.5,1467.3 2717.7,1454.6 2730.8,1465.3 2744.0,1452.5 2757.1,1460.2 2770.3,1467.3 2783.4,1465.6 2796.6,1459.9 2809.7,1446.1 2822.9,1445.6 2836.0,1452.8 2849.2,1446.1 2862.3,1433.7 2875.5,1439.5 2888.6,1449.6 2901.8,1454.2 2914.9,1451.2 2928.0,1438.6 2941.2,1427.4 2954.3,1420.5 2967.5,1406.3 2980.6,1421.8 2993.8,1421.6 3006.9,1414.7 3020.1,1404.9 3033.2,1365.1 3046.4,1355.4 3059.5,1370.5 3072.7,1376.8 3085.8,1411.8 3099.0,1403.8" fill="none" stroke="#7e57c2" stroke-width="2.6" stroke-linejoin="round"/>
</g>
<text x="3435.4" y="170.6" font-size="27" fill="#4a4a4a" font-weight="normal" text-anchor="start" textLength="143.0" lengthAdjust="spacingAndGlyphs" stroke="#4a4a4a" stroke-width="0.45" >0.00004500</text>
<text x="3435.4" y="319.5" font-size="27" fill="#4a4a4a" font-weight="normal" text-anchor="start" textLength="143.0" lengthAdjust="spacingAndGlyphs" stroke="#4a4a4a" stroke-width="0.45" >0.00004000</text>
<text x="3435.4" y="468.5" font-size="27" fill="#4a4a4a" font-weight="normal" text-anchor="start" textLength="143.0" lengthAdjust="spacingAndGlyphs" stroke="#4a4a4a" stroke-width="0.45" >0.00003500</text>
<text x="3435.4" y="617.5" font-size="27" fill="#4a4a4a" font-weight="normal" text-anchor="start" textLength="143.0" lengthAdjust="spacingAndGlyphs" stroke="#4a4a4a" stroke-width="0.45" >0.00003000</text>
<text x="3435.4" y="766.4" font-size="27" fill="#4a4a4a" font-weight="normal" text-anchor="start" textLength="143.0" lengthAdjust="spacingAndGlyphs" stroke="#4a4a4a" stroke-width="0.45" >0.00002500</text>
<text x="3435.4" y="915.4" font-size="27" fill="#4a4a4a" font-weight="normal" text-anchor="start" textLength="143.0" lengthAdjust="spacingAndGlyphs" stroke="#4a4a4a" stroke-width="0.45" >0.00002000</text>
<text x="3435.4" y="1064.4" font-size="27" fill="#4a4a4a" font-weight="normal" text-anchor="start" textLength="143.0" lengthAdjust="spacingAndGlyphs" stroke="#4a4a4a" stroke-width="0.45" >0.00001500</text>
<text x="3435.4" y="1213.3" font-size="27" fill="#4a4a4a" font-weight="normal" text-anchor="start" textLength="143.0" lengthAdjust="spacingAndGlyphs" stroke="#4a4a4a" stroke-width="0.45" >0.00001000</text>
<text x="3435.2" y="1373.3" font-size="27" fill="#4a4a4a" font-weight="normal" text-anchor="start" textLength="68.8" lengthAdjust="spacingAndGlyphs" stroke="#4a4a4a" stroke-width="0.45" >80.00</text>
<text x="3435.2" y="1474.2" font-size="27" fill="#4a4a4a" font-weight="normal" text-anchor="start" textLength="68.8" lengthAdjust="spacingAndGlyphs" stroke="#4a4a4a" stroke-width="0.45" >40.00</text>
<text x="285.0" y="1561.7" font-size="27" fill="#4a4a4a" font-weight="normal" text-anchor="middle" textLength="45.6" lengthAdjust="spacing" stroke="#4a4a4a" stroke-width="1.0" >Mar</text>
<text x="482.2" y="1561.7" font-size="27" fill="#4a4a4a" font-weight="normal" text-anchor="middle" textLength="26.5" lengthAdjust="spacingAndGlyphs" stroke="#4a4a4a" stroke-width="0.7" >16</text>
<text x="692.6" y="1561.7" font-size="27" fill="#4a4a4a" font-weight="normal" text-anchor="middle" textLength="48.6" lengthAdjust="spacing" stroke="#4a4a4a" stroke-width="1.0" >Apr</text>
<text x="889.9" y="1561.7" font-size="27" fill="#4a4a4a" font-weight="normal" text-anchor="middle" textLength="26.5" lengthAdjust="spacingAndGlyphs" stroke="#4a4a4a" stroke-width="0.7" >16</text>
<text x="1087.1" y="1561.7" font-size="27" fill="#4a4a4a" font-weight="normal" text-anchor="middle" textLength="49.4" lengthAdjust="spacing" stroke="#4a4a4a" stroke-width="1.0" >May</text>
<text x="1284.4" y="1561.7" font-size="27" fill="#4a4a4a" font-weight="normal" text-anchor="middle" textLength="26.5" lengthAdjust="spacingAndGlyphs" stroke="#4a4a4a" stroke-width="0.7" >16</text>
<text x="1494.8" y="1561.7" font-size="27" fill="#4a4a4a" font-weight="normal" text-anchor="middle" textLength="48.2" lengthAdjust="spacing" stroke="#4a4a4a" stroke-width="1.0" >Jun</text>
<text x="1692.0" y="1561.7" font-size="27" fill="#4a4a4a" font-weight="normal" text-anchor="middle" textLength="26.5" lengthAdjust="spacingAndGlyphs" stroke="#4a4a4a" stroke-width="0.7" >16</text>
<text x="1889.2" y="1561.7" font-size="27" fill="#4a4a4a" font-weight="normal" text-anchor="middle" textLength="41.0" lengthAdjust="spacing" stroke="#4a4a4a" stroke-width="1.0" >Jul</text>
<text x="2086.5" y="1561.7" font-size="27" fill="#4a4a4a" font-weight="normal" text-anchor="middle" textLength="26.5" lengthAdjust="spacingAndGlyphs" stroke="#4a4a4a" stroke-width="0.7" >16</text>
<text x="2296.9" y="1561.7" font-size="27" fill="#4a4a4a" font-weight="normal" text-anchor="middle" textLength="52.3" lengthAdjust="spacing" stroke="#4a4a4a" stroke-width="1.0" >Aug</text>
<text x="2494.1" y="1561.7" font-size="27" fill="#4a4a4a" font-weight="normal" text-anchor="middle" textLength="26.5" lengthAdjust="spacingAndGlyphs" stroke="#4a4a4a" stroke-width="0.7" >16</text>
<text x="2704.5" y="1561.7" font-size="27" fill="#4a4a4a" font-weight="normal" text-anchor="middle" textLength="48.2" lengthAdjust="spacing" stroke="#4a4a4a" stroke-width="1.0" >Sep</text>
<text x="2901.8" y="1561.7" font-size="27" fill="#4a4a4a" font-weight="normal" text-anchor="middle" textLength="26.5" lengthAdjust="spacingAndGlyphs" stroke="#4a4a4a" stroke-width="0.7" >16</text>
<text x="3099.0" y="1561.7" font-size="27" fill="#4a4a4a" font-weight="normal" text-anchor="middle" textLength="47.2" lengthAdjust="spacing" stroke="#4a4a4a" stroke-width="1.0" >Oct</text>
<text x="3296.2" y="1561.7" font-size="27" fill="#4a4a4a" font-weight="normal" text-anchor="middle" textLength="26.5" lengthAdjust="spacingAndGlyphs" stroke="#4a4a4a" stroke-width="0.7" >16</text>
<rect x="3423" y="77" width="170.5" height="64" rx="10" fill="#fff" stroke="#eceef3" stroke-width="1.6"/>
<text x="3446.0" y="117.0" font-size="26" fill="#131722" font-weight="normal" text-anchor="start" textLength="62.0" lengthAdjust="spacingAndGlyphs" stroke="#131722" stroke-width="0.45" >USDT</text>
<rect x="3277.4" y="934.5" width="140" height="39.1" rx="5" fill="#26a69a"/>
<text x="3286.0" y="964.0" font-size="28" fill="#ffffff" font-weight="normal" text-anchor="start" textLength="118.0" lengthAdjust="spacingAndGlyphs" stroke="#ffffff" stroke-width="0.45" >SHIBUSDT</text>
<path d="M3413.7 934.5 H3584.4 a6 6 0 0 1 6 6 V999.5 a6 6 0 0 1 -6 6 H3413.7 Z" fill="#26a69a"/>
<text x="3435.4" y="963.5" font-size="27" fill="#ffffff" font-weight="normal" text-anchor="start" textLength="143.0" lengthAdjust="spacingAndGlyphs" stroke="#ffffff" stroke-width="0.45" >0.00001838</text>
<text x="3435.4" y="996.0" font-size="27" fill="#cdeae6" font-weight="normal" text-anchor="start" textLength="108.0" lengthAdjust="spacingAndGlyphs" stroke="#cdeae6" stroke-width="0.45" >15:10:01</text>
<line x1="3413.7" y1="67.0" x2="3413.7" y2="1586.5" stroke="#50535e" stroke-width="2.5"/>
<line x1="25.2" y1="1517.9" x2="3602.5" y2="1517.9" stroke="#50535e" stroke-width="2.5"/>
<path d="M25.6 1617.4 H44.3 V1641.7 H35.2 V1626.7 H25.6 Z" fill="#131722"/>
<circle cx="52.5" cy="1622.4" r="5.2" fill="#131722"/>
<path d="M61.9 1617.4 H73.3 L63.7 1641.7 H52.8 Z" fill="#131722"/>
<text x="82.8" y="1643.4" font-size="32" fill="#131722" font-weight="normal" text-anchor="start" textLength="176.2" lengthAdjust="spacingAndGlyphs" >TradingView</text>
</svg></body></html>
